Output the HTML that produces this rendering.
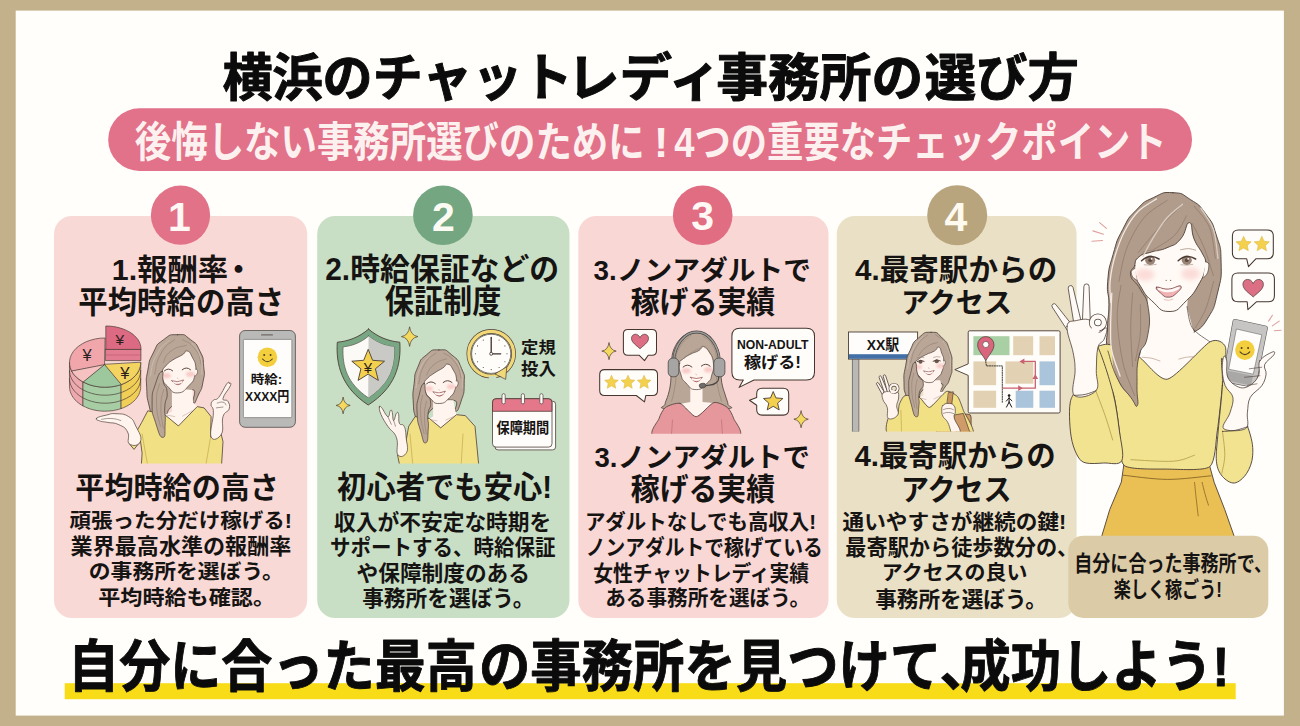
<!DOCTYPE html>
<html lang="ja">
<head>
<meta charset="utf-8">
<title>横浜のチャットレディ事務所の選び方</title>
<style>
html,body{margin:0;padding:0;}
body{width:1300px;height:726px;overflow:hidden;background:#c3b18b;font-family:"Liberation Sans",sans-serif;}
#page{position:relative;width:1300px;height:726px;overflow:hidden;background:#c3b18b;}
#art{position:absolute;left:0;top:0;width:1300px;height:726px;display:block;}
.t{position:absolute;margin:0;padding:0;color:transparent;white-space:nowrap;overflow:hidden;line-height:1.2;font-weight:bold;font-family:"Liberation Sans",sans-serif;}
</style>
</head>
<body>
<div id="page">
<svg id="art" width="1300" height="726" viewBox="0 0 1300 726">
<defs>
<filter id="bl" x="-50%" y="-50%" width="200%" height="200%"><feGaussianBlur stdDeviation="1.1"/></filter>
<filter id="bl2" x="-50%" y="-50%" width="200%" height="200%"><feGaussianBlur stdDeviation="2.4"/></filter>
</defs>
<!-- base.svg -->
<rect x="0" y="0" width="1300" height="726" fill="#c3b18b"/>
<rect x="15.7" y="10.6" width="1268.2" height="705" fill="#fffefb"/>
<!-- banner -->
<rect x="108.2" y="108.3" width="1083.8" height="62.7" rx="31.3" fill="#e2718a"/>
<!-- cards -->
<rect x="54" y="216" width="253.2" height="402" rx="18" fill="#f9d9d5"/>
<rect x="317.2" y="216" width="252.3" height="402" rx="18" fill="#c9dfc5"/>
<rect x="578.3" y="216" width="250.2" height="402" rx="18" fill="#f9d7d5"/>
<rect x="836.8" y="216" width="239.8" height="402" rx="18" fill="#eae0c6"/>
<!-- number circles -->
<circle cx="180.5" cy="215.2" r="29.6" fill="#e17288"/>
<circle cx="442.9" cy="215.2" r="29.8" fill="#75a682"/>
<circle cx="702.7" cy="215.2" r="29.8" fill="#e16d82"/>
<circle cx="957.2" cy="215.2" r="30" fill="#b9a57d"/>
<!-- highlight -->
<rect x="64.7" y="683.2" width="1171" height="16" fill="#f8dc17"/>

<!-- ill1.svg -->
<clipPath id="clip1"><rect x="54" y="216" width="253.2" height="247.6"/></clipPath><g id="ill1" clip-path="url(#clip1)">
<path d="M69.5,362.6L69.6,364.2L69.8,365.8L70.2,367.4L70.7,368.9L71.4,370.4L72.2,371.9L73.1,373.4L74.2,374.8L75.4,376.2L76.7,377.5L78.2,378.7L79.7,379.9L81.4,381.0L83.2,382.0L83.2,406.0L81.4,405.0L79.7,403.9L78.2,402.7L76.7,401.5L75.4,400.2L74.2,398.8L73.1,397.4L72.2,395.9L71.4,394.4L70.7,392.9L70.2,391.4L69.8,389.8L69.6,388.2L69.5,386.6Z" fill="#eda9ad" stroke="#4b3d37" stroke-width="0.7" stroke-linejoin="round" stroke-linecap="round"/>
<path d="M83.2,382.0L85.5,383.1L88.0,384.2L90.6,385.1L93.3,385.8L96.0,386.4L98.8,386.8L101.7,387.1L104.6,387.2L107.5,387.1L110.3,386.9L113.2,386.6L115.9,386.0L118.6,385.4L121.3,384.5L121.3,408.5L118.6,409.4L115.9,410.0L113.2,410.6L110.3,410.9L107.5,411.1L104.6,411.2L101.7,411.1L98.8,410.8L96.0,410.4L93.3,409.8L90.6,409.1L88.0,408.2L85.5,407.1L83.2,406.0Z" fill="#a7cda4" stroke="#4b3d37" stroke-width="0.7" stroke-linejoin="round" stroke-linecap="round"/>
<path d="M121.3,384.5L123.7,383.6L126.0,382.5L128.2,381.3L130.3,380.0L132.2,378.6L133.9,377.1L135.5,375.5L136.8,373.8L138.0,372.0L139.0,370.2L139.7,368.3L140.3,366.4L140.6,364.5L140.7,362.6L140.7,386.6L140.6,388.5L140.3,390.4L139.7,392.3L139.0,394.2L138.0,396.0L136.8,397.8L135.5,399.5L133.9,401.1L132.2,402.6L130.3,404.0L128.2,405.3L126.0,406.5L123.7,407.6L121.3,408.5Z" fill="#f1cf57" stroke="#4b3d37" stroke-width="0.7" stroke-linejoin="round" stroke-linecap="round"/>
<path d="M69.5,370.6L69.8,373.8L70.7,377.0L72.2,380.0L74.3,382.9L76.9,385.6L79.9,388.0L83.4,390.1L87.3,391.9L91.5,393.3L95.9,394.4L100.5,395.0L105.1,395.2L109.7,395.0L114.3,394.4L118.7,393.3L122.9,391.9L126.8,390.1L130.3,388.0L133.3,385.6L135.9,382.9L138.0,380.0L139.5,377.0L140.4,373.8L140.7,370.6" fill="none" stroke="#4b3d37" stroke-width="0.7" stroke-linejoin="round" stroke-linecap="round"/>
<path d="M69.5,378.6L69.8,381.8L70.7,385.0L72.2,388.0L74.3,390.9L76.9,393.6L79.9,396.0L83.4,398.1L87.3,399.9L91.5,401.3L95.9,402.4L100.5,403.0L105.1,403.2L109.7,403.0L114.3,402.4L118.7,401.3L122.9,399.9L126.8,398.1L130.3,396.0L133.3,393.6L135.9,390.9L138.0,388.0L139.5,385.0L140.4,381.8L140.7,378.6" fill="none" stroke="#4b3d37" stroke-width="0.7" stroke-linejoin="round" stroke-linecap="round"/>
<path d="M104.6,364.6L105.1,338.0L100.2,338.2L95.5,338.9L90.9,340.1L86.5,341.6L82.6,343.6L79.0,345.9L75.9,348.5L73.4,351.4L71.5,354.5L70.2,357.7L69.6,361.1L69.6,364.4L70.3,367.8L71.6,371.0Z" fill="#f0a6ab" stroke="#4b3d37" stroke-width="0.7" stroke-linejoin="round" stroke-linecap="round"/>
<path d="M104.6,364.6L71.6,371.0L72.2,371.9L72.7,372.8L73.3,373.7L74.0,374.6L74.7,375.4L75.5,376.3L76.3,377.1L77.2,377.8L78.1,378.6L79.0,379.3L80.0,380.0L81.0,380.7L82.1,381.4L83.2,382.0Z" fill="#f6c2c1" stroke="#4b3d37" stroke-width="0.7" stroke-linejoin="round" stroke-linecap="round"/>
<path d="M104.6,364.6L83.2,382.0L85.5,383.1L88.0,384.2L90.6,385.1L93.3,385.8L96.0,386.4L98.8,386.8L101.7,387.1L104.6,387.2L107.5,387.1L110.3,386.9L113.2,386.6L115.9,386.0L118.6,385.4L121.3,384.5Z" fill="#9dc89e" stroke="#4b3d37" stroke-width="0.7" stroke-linejoin="round" stroke-linecap="round"/>
<path d="M104.6,364.6L121.3,384.5L123.7,383.6L126.0,382.5L128.2,381.3L130.3,380.0L132.2,378.6L133.9,377.1L135.5,375.5L136.8,373.8L138.0,372.0L139.0,370.2L139.7,368.3L140.3,366.4L140.6,364.5L140.7,362.6Z" fill="#f3d460" stroke="#4b3d37" stroke-width="0.7" stroke-linejoin="round" stroke-linecap="round"/>
<path d="M105.8,349.0L140.9,349.0L140.9,360.6L105.8,360.6Z" fill="#e27c90" stroke="#4b3d37" stroke-width="0.7" stroke-linejoin="round" stroke-linecap="round"/>
<path d="M105.8,355 L140.9,355" fill="none" stroke="#b8586c" stroke-width="0.6" stroke-linejoin="round" stroke-linecap="round"/>
<path d="M105.8,349.0L105.8,326.0L109.5,326.1L113.1,326.5L116.7,327.1L120.1,328.0L123.4,329.1L126.5,330.4L129.4,331.9L132.0,333.6L134.3,335.5L136.3,337.5L138.0,339.6L139.3,341.9L140.2,344.2L140.8,346.6L141.0,349.0Z" fill="#db6a82" stroke="#4b3d37" stroke-width="0.7" stroke-linejoin="round" stroke-linecap="round"/>
<path d="M177.7,334.7C168.7,334.8 171.4,333.8 163.3,339.9C155.1,346.0 158.4,342.8 153.2,353.0C148.1,363.1 150.0,358.8 147.8,370.3C145.7,381.9 146.2,375.5 146.7,387.7C147.2,399.9 146.6,395.1 149.4,407.0C152.2,418.9 150.7,413.2 155.2,423.4C159.7,433.5 159.4,439.0 162.9,437.4C166.3,435.8 161.6,430.0 165.6,418.5C169.6,407.1 166.0,412.8 174.8,403.1C183.7,393.5 186.1,389.7 192.2,389.6C198.3,389.5 191.1,400.9 193.1,402.7C195.2,404.5 195.1,402.0 198.3,395.0C201.6,388.1 201.2,391.4 203.0,381.9C204.8,372.4 204.8,376.8 203.7,366.5C202.7,356.2 204.4,360.1 199.9,351.1C195.4,342.1 197.6,345.0 190.3,339.5C182.9,334.0 186.7,334.5 177.7,334.7Z" fill="#b9a697" stroke="#4b3d37" stroke-width="0.8" stroke-linejoin="round" stroke-linecap="round"/>
<path d="M171.9,389.6L171.9,411.8L164.2,415.1L178.7,426.3L198.0,407.0L193.1,402.7L192.2,389.6Z" fill="#fff4ee" stroke="none" stroke-width="0" stroke-linejoin="round" stroke-linecap="round"/>
<path d="M164.0,414.3L147.8,410.8L141.7,422.4L129.5,444.0L134.0,449.4L140.5,441.3L142.1,453.2L141.3,466.0L221.5,466.0L223.0,441.7L221.1,434.0L210.5,436.9L211.1,416.6L204.1,407.9L197.2,406.6L178.7,425.7Z" fill="#f2e084" stroke="#4b3d37" stroke-width="0.8" stroke-linejoin="round" stroke-linecap="round"/>
<path d="M142.1,434.0L147.8,466.0" fill="none" stroke="#b8a04e" stroke-width="0.6" stroke-linejoin="round" stroke-linecap="round"/>
<path d="M211.1,434.0L205.7,466.0" fill="none" stroke="#b8a04e" stroke-width="0.6" stroke-linejoin="round" stroke-linecap="round"/>
<path d="M167.1,415.1L174.8,416.6" fill="none" stroke="#b59a8c" stroke-width="0.5" stroke-linejoin="round" stroke-linecap="round"/>
<path d="M182.5,416.2L192.2,410.8" fill="none" stroke="#b59a8c" stroke-width="0.5" stroke-linejoin="round" stroke-linecap="round"/>
<path d="M162.1,371.9C161.1,375.7 160.9,374.2 162.5,378.4C164.1,382.7 162.9,381.8 167.5,386.2C172.1,390.5 171.1,393.2 177.7,392.9C184.3,392.6 184.3,390.1 189.5,385.0C194.6,379.8 193.0,381.2 194.9,375.7C196.8,370.3 196.5,372.3 195.8,366.9C195.1,361.5 195.1,362.6 192.6,357.8C190.0,353.1 190.5,351.9 187.4,351.1C184.2,350.2 186.5,352.3 182.2,354.9C177.8,357.6 177.8,356.7 172.9,359.9C168.0,363.2 169.2,362.1 166.0,365.7C162.7,369.3 163.1,368.1 162.1,371.9Z" fill="#fff4ee" stroke="#4b3d37" stroke-width="0.7" stroke-linejoin="round" stroke-linecap="round"/>
<path d="M195.3,369.2C196.0,369.6 196.9,368.5 197.4,370.3C197.8,372.1 197.5,372.8 196.6,374.6C195.7,376.4 195.3,375.4 194.7,375.7" fill="#fff4ee" stroke="#4b3d37" stroke-width="0.6" stroke-linejoin="round" stroke-linecap="round"/>
<ellipse cx="166.5" cy="375.7" rx="4.3" ry="2.6" fill="#f6b9b6" opacity="0.7" filter="url(#bl)"/>
<ellipse cx="190.3" cy="374.2" rx="4.3" ry="2.6" fill="#f6b9b6" opacity="0.7" filter="url(#bl)"/>
<path d="M162.1,371.5C159.5,372.1 158.9,373.3 155.5,383.8C152.2,394.4 152.1,390.3 152.1,403.1C152.1,416.0 151.9,411.0 155.5,422.4C159.1,433.8 159.7,437.4 162.9,437.4C166.1,437.4 164.5,432.5 165.2,422.4C165.8,412.2 164.2,416.9 164.8,407.0C165.4,397.0 167.6,400.9 167.1,392.5C166.6,384.2 164.9,388.9 163.3,381.9C161.6,374.9 164.7,370.9 162.1,371.5Z" fill="#b9a697" stroke="#4b3d37" stroke-width="0.7" stroke-linejoin="round" stroke-linecap="round"/>
<path d="M159.4,383.8C158.4,390.3 156.2,389.0 156.5,403.1C156.8,417.3 159.1,418.5 160.4,426.3" fill="none" stroke="#8c7768" stroke-width="0.5" stroke-linejoin="round" stroke-linecap="round"/>
<path d="M163.6,389.6C162.7,395.4 161.1,394.1 160.9,407.0C160.8,419.8 162.5,421.1 163.3,428.2" fill="none" stroke="#8c7768" stroke-width="0.5" stroke-linejoin="round" stroke-linecap="round"/>
<path d="M174.8,339.5C170.3,344.0 168.1,341.4 161.3,353.0C154.6,364.6 156.8,367.1 154.6,374.2" fill="none" stroke="#8c7768" stroke-width="0.5" stroke-linejoin="round" stroke-linecap="round"/>
<path d="M182.5,339.5C186.7,342.7 188.8,340.8 195.1,349.1C201.4,357.5 199.3,359.4 201.4,364.6" fill="none" stroke="#8c7768" stroke-width="0.5" stroke-linejoin="round" stroke-linecap="round"/>
<path d="M186.4,345.3C181.3,347.2 178.7,345.3 171.0,351.1C163.3,356.8 165.8,358.8 163.3,362.6" fill="none" stroke="#8c7768" stroke-width="0.5" stroke-linejoin="round" stroke-linecap="round"/>
<path d="M169.0,340.5C164.9,345.3 162.8,343.0 156.5,354.9C150.2,366.8 152.3,369.1 150.2,376.1" fill="none" stroke="#cdbdb0" stroke-width="0.9" stroke-linejoin="round" stroke-linecap="round"/>
<path d="M192.2,343.4C194.9,347.8 197.1,346.6 200.3,356.8C203.5,367.1 201.3,368.4 201.8,374.2" fill="none" stroke="#cdbdb0" stroke-width="0.9" stroke-linejoin="round" stroke-linecap="round"/>
<path d="M164.3,370.9 Q168.5,367.1 172.7,370.9" fill="none" stroke="#5a463e" stroke-width="1" stroke-linejoin="round" stroke-linecap="round"/>
<path d="M182.2,369.8 Q186.4,366.0 190.6,369.8" fill="none" stroke="#5a463e" stroke-width="1" stroke-linejoin="round" stroke-linecap="round"/>
<path d="M177.3,378.1 l0.8,0.6" fill="none" stroke="#c49a8c" stroke-width="0.6" stroke-linejoin="round" stroke-linecap="round"/>
<path d="M171.7,380.7 Q177.7,383.1 183.7,379.9 Q178.7,389.4 171.7,380.7 Z" fill="#e79a9c" stroke="#7a4a48" stroke-width="0.6" stroke-linejoin="round" stroke-linecap="round"/>
<path d="M172.7,381.3 Q177.7,383.3 182.7,380.7 L181.9,382.7 Q177.7,384.9 173.5,382.9 Z" fill="#fffaf6" stroke="none" stroke-width="0" stroke-linejoin="round" stroke-linecap="round"/>
<path d="M96.7,418.2C98.5,416.6 101.2,416.3 106.4,415.1C111.5,413.9 110.1,413.3 116.0,413.7C121.9,414.1 123.3,413.3 128.6,416.6C133.9,420.0 132.7,419.7 135.9,426.3C139.1,432.8 142.2,436.6 140.5,441.3C138.8,446.0 133.0,446.5 129.5,444.0C126.1,441.5 130.4,437.2 127.6,432.0C124.8,426.9 124.3,427.3 118.9,424.7C113.5,422.1 112.5,423.4 107.4,422.4C102.2,421.4 102.5,422.0 99.6,420.9C96.8,419.7 94.9,419.7 96.7,418.2Z" fill="#fff4ee" stroke="#4b3d37" stroke-width="0.7" stroke-linejoin="round" stroke-linecap="round"/>
<path d="M101.6,419.3C104.8,419.1 104.8,418.2 111.2,418.5C117.6,418.9 117.6,419.8 120.8,420.5" fill="none" stroke="#4b3d37" stroke-width="0.5" stroke-linejoin="round" stroke-linecap="round"/>
<path d="M229.2,383.1C228.3,382.7 228.9,380.9 226.5,384.2C224.1,387.6 221.8,393.6 218.8,397.3C215.7,401.1 215.2,398.4 213.4,400.2C211.6,402.0 211.1,402.1 211.1,405.0C211.1,408.0 213.4,405.3 213.4,412.8C213.4,420.2 209.2,431.9 211.1,436.9C213.0,441.8 218.7,438.7 221.5,434.0C224.3,429.2 221.2,422.5 223.0,416.6C224.8,410.8 228.1,412.5 229.2,408.9C230.3,405.3 229.3,403.7 227.8,401.2C226.4,398.7 222.4,401.9 223.0,398.3C223.6,394.7 228.9,389.3 230.4,385.8C231.8,382.2 230.1,383.4 229.2,383.1Z" fill="#fff4ee" stroke="#4b3d37" stroke-width="0.7" stroke-linejoin="round" stroke-linecap="round"/>
<path d="M217.2,403.1C219.2,402.8 220.1,401.5 223.0,402.2C225.9,402.8 225.0,404.1 225.9,405.0" fill="none" stroke="#4b3d37" stroke-width="0.5" stroke-linejoin="round" stroke-linecap="round"/>
<path d="M216.3,407.9C218.5,407.6 220.8,407.3 223.0,407.0" fill="none" stroke="#4b3d37" stroke-width="0.5" stroke-linejoin="round" stroke-linecap="round"/>
<rect x="239.6" y="330.5" width="55.8" height="96.8" rx="5.5" fill="#b9b9b7" stroke="#5e5a57" stroke-width="0.9"/>
<rect x="243.4" y="339.4" width="48.4" height="78.2" rx="1" fill="#fffdfb" stroke="#6a6663" stroke-width="0.6"/>
<rect x="261" y="334.3" width="12" height="1.3" rx="0.6" fill="#6e6a68"/>
<circle cx="267.4" cy="357.2" r="9.8" fill="#f3cf3e"/><circle cx="264.2" cy="355.0" r="0.98" fill="#4a3a2a"/><circle cx="270.6" cy="355.0" r="0.98" fill="#4a3a2a"/><path d="M262.5,359.0 Q267.4,364.6 272.3,359.0" fill="none" stroke="#4a3a2a" stroke-width="1.08" stroke-linecap="round"/>
</g>

<!-- ill2.svg -->
<clipPath id="clip2"><rect x="317.2" y="216" width="252.3" height="247.6"/></clipPath><g id="ill2" clip-path="url(#clip2)">
<path d="M368.6,329.1 C358.9,337.6 347.4,341.4 337.3,342.2 C335.8,364.6 341.6,387.7 368.2,405.0 C395.5,387.7 401.3,364.6 399.8,342.2 C389.8,341.4 378.2,337.6 368.6,329.1 Z" fill="#7aa783" stroke="#4b3d37" stroke-width="0.9" stroke-linejoin="round" stroke-linecap="round"/>
<path d="M368.6,336.0 C360.8,343.0 351.2,346.1 343.1,346.8 C342.0,366.5 347.4,383.8 368.2,397.7 C389.8,383.8 395.2,366.5 394.0,346.8 C385.9,346.1 376.3,343.0 368.6,336.0 Z" fill="#fbfaf7" stroke="#5a5a55" stroke-width="0.7" stroke-linejoin="round" stroke-linecap="round"/>
<path d="M368.6,336.0 L368.2,397.7 C389.8,383.8 395.2,366.5 394.0,346.8 C385.9,346.1 376.3,343.0 368.6,336.0 Z" fill="#c9c9c6" stroke="none" stroke-width="0" stroke-linejoin="round" stroke-linecap="round"/>
<linearGradient id="shg" x1="0" y1="0" x2="1" y2="0"><stop offset="0" stop-color="#f1f0ed"/><stop offset="1" stop-color="#fdfcfa"/></linearGradient>
<polygon points="368.2,349.3 372.6,360.3 384.5,361.2 375.4,368.8 378.3,380.4 368.2,374.1 358.1,380.4 360.9,368.8 351.8,361.2 363.7,360.3" fill="#f3d04e" stroke="#4b3d37" stroke-width="0.9" stroke-linejoin="round"/>
<path d="M409.6,326.8 Q410.6,335.4 417.9,336.6 Q410.6,337.8 409.6,346.4 Q408.6,337.8 401.4,336.6 Q408.6,335.4 409.6,326.8 Z" fill="#f4d95e" stroke="#4b3d37" stroke-width="0.7" stroke-linejoin="round"/>
<path d="M343.1,397.0 Q344.0,404.4 350.2,405.4 Q344.0,406.4 343.1,413.8 Q342.3,406.4 336.1,405.4 Q342.3,404.4 343.1,397.0 Z" fill="#f4d95e" stroke="#4b3d37" stroke-width="0.7" stroke-linejoin="round"/>
<path d="M438.9,349.9C430.4,349.9 433.5,349.1 426.4,354.9C419.3,360.8 421.8,357.8 417.7,367.4C413.6,377.1 415.5,371.9 414.1,383.8C412.6,395.7 412.7,391.5 413.3,403.1C413.9,414.7 413.3,408.3 415.8,418.5C418.2,428.8 417.3,425.9 420.6,434.0C424.0,442.1 423.4,445.4 425.8,442.8C428.3,440.3 425.8,437.6 427.9,426.3C430.1,414.9 423.7,417.6 432.2,408.9C440.7,400.2 445.7,399.5 453.4,400.2C461.1,401.0 452.7,410.9 455.3,411.2C457.9,411.5 458.1,410.3 461.1,401.2C464.1,392.1 464.1,394.8 464.2,383.8C464.3,372.9 465.6,378.1 461.5,368.4C457.4,358.8 459.4,361.1 451.8,354.9C444.3,348.7 447.4,349.9 438.9,349.9Z" fill="#b9a697" stroke="#4b3d37" stroke-width="0.8" stroke-linejoin="round" stroke-linecap="round"/>
<path d="M433.1,400.2L433.1,416.6L428.7,418.9L441.0,427.8L456.9,415.1L455.3,411.2L453.4,400.2Z" fill="#fff4ee" stroke="none" stroke-width="0" stroke-linejoin="round" stroke-linecap="round"/>
<path d="M429.1,418.5L415.2,416.6L408.7,426.3L404.2,451.3L397.5,454.8L399.8,466.0L478.8,466.0L475.0,426.3L465.3,415.6L456.5,414.7L441.0,427.6Z" fill="#f2e084" stroke="#4b3d37" stroke-width="0.8" stroke-linejoin="round" stroke-linecap="round"/>
<path d="M410.0,434.0L412.9,466.0" fill="none" stroke="#b8a04e" stroke-width="0.6" stroke-linejoin="round" stroke-linecap="round"/>
<path d="M463.0,434.0L461.1,466.0" fill="none" stroke="#b8a04e" stroke-width="0.6" stroke-linejoin="round" stroke-linecap="round"/>
<path d="M431.2,419.7L437.0,420.9" fill="none" stroke="#b59a8c" stroke-width="0.5" stroke-linejoin="round" stroke-linecap="round"/>
<path d="M445.7,420.1L453.4,416.6" fill="none" stroke="#b59a8c" stroke-width="0.5" stroke-linejoin="round" stroke-linecap="round"/>
<path d="M424.1,383.8C423.3,387.5 423.0,386.2 424.9,390.6C426.7,394.9 426.0,394.4 430.3,398.3C434.5,402.2 433.3,403.7 439.1,403.5C444.9,403.3 444.6,402.5 449.5,397.7C454.5,393.0 453.6,393.3 455.7,387.7C457.8,382.1 457.2,384.2 456.5,379.0C455.8,373.8 455.9,374.8 453.4,370.3C450.8,365.9 451.2,364.9 448.0,364.2C444.8,363.5 446.9,365.3 442.8,368.0C438.6,370.7 438.7,370.1 434.1,373.2C429.5,376.4 430.4,375.3 427.4,378.4C424.4,381.6 424.8,380.2 424.1,383.8Z" fill="#fff4ee" stroke="#4b3d37" stroke-width="0.7" stroke-linejoin="round" stroke-linecap="round"/>
<path d="M456.1,380.9C456.7,381.3 457.6,380.2 458.0,381.9C458.4,383.6 458.1,384.4 457.2,386.2C456.3,387.9 456.0,386.9 455.3,387.3" fill="#fff4ee" stroke="#4b3d37" stroke-width="0.6" stroke-linejoin="round" stroke-linecap="round"/>
<ellipse cx="428.7" cy="388.7" rx="4.2" ry="2.6" fill="#f6b9b6" opacity="0.65" filter="url(#bl)"/>
<ellipse cx="451.1" cy="386.7" rx="4.2" ry="2.6" fill="#f6b9b6" opacity="0.65" filter="url(#bl)"/>
<path d="M424.1,383.5C421.8,384.1 421.4,385.6 419.1,395.4C416.8,405.2 416.6,400.9 417.1,412.8C417.7,424.6 417.7,421.0 420.6,431.1C423.5,441.1 423.2,443.8 425.8,442.8C428.4,441.9 427.6,437.6 428.3,428.2C429.0,418.8 427.2,423.4 427.9,414.7C428.7,406.0 431.3,409.2 430.6,402.2C430.0,395.1 428.2,399.7 426.0,393.5C423.8,387.2 426.4,382.8 424.1,383.5Z" fill="#b9a697" stroke="#4b3d37" stroke-width="0.7" stroke-linejoin="round" stroke-linecap="round"/>
<path d="M422.5,395.4C421.9,401.2 420.1,399.9 420.6,412.8C421.1,425.6 422.9,426.9 424.1,434.0" fill="none" stroke="#8c7768" stroke-width="0.5" stroke-linejoin="round" stroke-linecap="round"/>
<path d="M426.4,401.2C425.8,406.3 424.5,405.7 424.5,416.6C424.5,427.5 425.8,428.2 426.4,434.0" fill="none" stroke="#8c7768" stroke-width="0.5" stroke-linejoin="round" stroke-linecap="round"/>
<path d="M436.0,353.0C432.2,356.8 430.3,354.3 424.5,364.6C418.7,374.8 420.6,377.4 418.7,383.8" fill="none" stroke="#8c7768" stroke-width="0.5" stroke-linejoin="round" stroke-linecap="round"/>
<path d="M443.7,353.0C447.6,356.2 449.5,354.3 455.3,362.6C461.1,371.0 459.2,372.9 461.1,378.1" fill="none" stroke="#8c7768" stroke-width="0.5" stroke-linejoin="round" stroke-linecap="round"/>
<path d="M446.6,358.8C442.5,360.7 440.9,359.1 434.1,364.6C427.4,370.0 429.0,371.6 426.4,375.2" fill="none" stroke="#8c7768" stroke-width="0.5" stroke-linejoin="round" stroke-linecap="round"/>
<path d="M430.3,354.9C426.9,359.4 425.0,357.5 420.2,368.4C415.5,379.3 417.4,381.3 416.0,387.7" fill="none" stroke="#cdbdb0" stroke-width="0.9" stroke-linejoin="round" stroke-linecap="round"/>
<path d="M453.4,357.8C455.8,362.0 457.8,360.4 460.7,370.3C463.7,380.3 461.7,381.9 462.3,387.7" fill="none" stroke="#cdbdb0" stroke-width="0.9" stroke-linejoin="round" stroke-linecap="round"/>
<path d="M426.6,383.7 Q431.0,379.9 435.4,383.7" fill="none" stroke="#5a463e" stroke-width="1" stroke-linejoin="round" stroke-linecap="round"/>
<path d="M443.2,382.5 Q447.6,378.7 452.0,382.5" fill="none" stroke="#5a463e" stroke-width="1" stroke-linejoin="round" stroke-linecap="round"/>
<path d="M438.7,389.6 l0.8,0.6" fill="none" stroke="#c49a8c" stroke-width="0.6" stroke-linejoin="round" stroke-linecap="round"/>
<path d="M433.1,391.9 Q439.3,394.3 445.5,391.1 Q440.3,401.1 433.1,391.9 Z" fill="#e79a9c" stroke="#7a4a48" stroke-width="0.6" stroke-linejoin="round" stroke-linecap="round"/>
<path d="M434.1,392.5 Q439.3,394.5 444.5,391.9 L443.5,394.1 Q439.3,396.3 435.1,394.3 Z" fill="#fffaf6" stroke="none" stroke-width="0" stroke-linejoin="round" stroke-linecap="round"/>
<path d="M379.4,407.0C379.5,405.4 379.7,405.5 381.7,407.7C383.6,410.0 385.9,415.9 387.8,416.6C389.8,417.3 389.2,412.0 390.2,410.8C391.1,409.7 391.3,409.3 392.1,411.6C392.9,413.8 392.6,420.1 393.6,420.5C394.7,420.8 395.3,414.6 396.5,413.1C397.7,411.7 398.0,411.9 398.6,414.3C399.3,416.7 398.1,420.6 399.4,423.4C400.7,426.1 402.6,422.9 404.2,426.3C405.8,429.6 405.6,431.7 406.2,437.8C406.7,443.9 408.7,448.3 406.7,452.3C404.8,456.2 400.2,458.2 397.9,454.8C395.5,451.4 398.9,444.5 396.5,437.8C394.2,431.2 391.4,431.6 387.8,426.3C384.2,420.9 383.1,419.2 381.1,414.7C379.1,410.2 379.2,408.6 379.4,407.0Z" fill="#fff4ee" stroke="#4b3d37" stroke-width="0.7" stroke-linejoin="round" stroke-linecap="round"/>
<path d="M387.8,416.6C389.0,419.2 390.2,421.8 391.3,424.3" fill="none" stroke="#4b3d37" stroke-width="0.5" stroke-linejoin="round" stroke-linecap="round"/>
<path d="M393.6,420.5C394.3,422.4 394.9,424.3 395.5,426.3" fill="none" stroke="#4b3d37" stroke-width="0.5" stroke-linejoin="round" stroke-linecap="round"/>
<circle cx="491.2" cy="353.8" r="22.4" fill="none" stroke="#4b3d37" stroke-width="4.6"/>
<circle cx="491.2" cy="353.8" r="22.4" fill="none" stroke="#f1d878" stroke-width="3.3"/>
<circle cx="491.2" cy="353.8" r="19.6" fill="#fffdf9" stroke="#4b3d37" stroke-width="0.7"/>
<circle cx="507.0" cy="353.8" r="0.55" fill="#4a403a"/>
<circle cx="504.9" cy="361.7" r="0.55" fill="#4a403a"/>
<circle cx="499.1" cy="367.5" r="0.55" fill="#4a403a"/>
<circle cx="491.2" cy="369.6" r="0.55" fill="#4a403a"/>
<circle cx="483.3" cy="367.5" r="0.55" fill="#4a403a"/>
<circle cx="477.5" cy="361.7" r="0.55" fill="#4a403a"/>
<circle cx="475.4" cy="353.8" r="0.55" fill="#4a403a"/>
<circle cx="477.5" cy="345.9" r="0.55" fill="#4a403a"/>
<circle cx="483.3" cy="340.1" r="0.55" fill="#4a403a"/>
<circle cx="491.2" cy="338.0" r="0.55" fill="#4a403a"/>
<circle cx="499.1" cy="340.1" r="0.55" fill="#4a403a"/>
<circle cx="504.9" cy="345.9" r="0.55" fill="#4a403a"/>
<path d="M491.2,337.3 L491.2,353.8 L500.7,353.8" fill="none" stroke="#3a302c" stroke-width="1.3" stroke-linejoin="round" stroke-linecap="round"/>
<circle cx="491.2" cy="353.8" r="1.5" fill="#fffdf9" stroke="#3a302c" stroke-width="0.8"/>
<path d="M488.9,375.8L496.4,376.5L496.0,380.6L488.9,379.7Z" fill="#c9dfc5" stroke="none" stroke-width="0" stroke-linejoin="round" stroke-linecap="round"/>
<path d="M495.3,373.7L506.8,366.8L505.7,379.0Z" fill="#f1d878" stroke="#4b3d37" stroke-width="0.7" stroke-linejoin="round" stroke-linecap="round"/>
<rect x="495.0" y="401.2" width="60.6" height="48.7" rx="3" fill="#fffdfb" stroke="#4b3d37" stroke-width="0.8"/>
<rect x="492.5" y="398.7" width="59.5" height="48.4" rx="3.5" fill="#fffdfb" stroke="#4b3d37" stroke-width="0.8"/>
<path d="M492.5,411.3 L492.5,402.2 Q492.5,398.7 496.0,398.7 L548.4,398.7 Q551.9,398.7 551.9,402.2 L551.9,411.3 Z" fill="#e4778a" stroke="#4b3d37" stroke-width="0.8"/>
<rect x="502.0" y="393.7" width="3.2" height="10.2" rx="1.6" fill="#fffdfb" stroke="#4b3d37" stroke-width="0.7"/>
<rect x="521.3" y="393.7" width="3.2" height="10.2" rx="1.6" fill="#fffdfb" stroke="#4b3d37" stroke-width="0.7"/>
<rect x="539.8" y="393.7" width="3.2" height="10.2" rx="1.6" fill="#fffdfb" stroke="#4b3d37" stroke-width="0.7"/>
</g>

<!-- ill3.svg -->
<clipPath id="clip3"><rect x="578.3" y="216" width="250.2" height="217.7"/></clipPath><g id="ill3" clip-path="url(#clip3)">
<path d="M627.9,329.4L652.0,329.4Q656.5,329.4 656.5,333.9L656.5,350.7Q656.5,355.2 652.0,355.2L648.2,355.2 L644.5,360.6 L639.1,355.2L627.9,355.2Q623.4,355.2 623.4,350.7L623.4,333.9Q623.4,329.4 627.9,329.4 Z" fill="#fffdfa" stroke="#45372f" stroke-width="1.05" stroke-linejoin="round"/>
<path d="M640.0,337.8 C638.3,332.7 631.5,333.2 631.5,338.4 C631.5,342.7 636.6,345.4 640.0,348.8 C643.4,345.4 648.5,342.7 648.5,338.4 C648.5,333.2 641.7,332.7 640.0,337.8 Z" fill="#dd6f85" stroke="#4b3d37" stroke-width="0.7" stroke-linejoin="round"/>
<path d="M604.7,369.6L652.5,369.6Q657.5,369.6 657.5,374.6L657.5,390.5Q657.5,395.5 652.5,395.5L645.8,395.5 L644.5,401.9 L636.3,395.5L604.7,395.5Q599.7,395.5 599.7,390.5L599.7,374.6Q599.7,369.6 604.7,369.6 Z" fill="#fffdfa" stroke="#45372f" stroke-width="1.05" stroke-linejoin="round"/>
<polygon points="611.5,375.2 613.5,379.7 618.3,380.2 614.7,383.5 615.7,388.3 611.5,385.8 607.2,388.3 608.2,383.5 604.6,380.2 609.5,379.7" fill="#f3d04e" stroke="#d9b23a" stroke-width="0.5" stroke-linejoin="round"/>
<polygon points="628.0,375.2 630.0,379.7 634.8,380.2 631.2,383.5 632.2,388.3 628.0,385.8 623.8,388.3 624.8,383.5 621.1,380.2 626.0,379.7" fill="#f3d04e" stroke="#d9b23a" stroke-width="0.5" stroke-linejoin="round"/>
<polygon points="644.1,375.2 646.1,379.7 650.9,380.2 647.3,383.5 648.3,388.3 644.1,385.8 639.9,388.3 640.9,383.5 637.3,380.2 642.1,379.7" fill="#f3d04e" stroke="#d9b23a" stroke-width="0.5" stroke-linejoin="round"/>
<path d="M739.9,328.3L806.5,328.3Q814.5,328.3 814.5,336.3L814.5,372.0Q814.5,380.0 806.5,380.0L754.0,380.0 L739.1,387.4 L743.3,380.0L739.9,380.0Q731.9,380.0 731.9,372.0L731.9,336.3Q731.9,328.3 739.9,328.3 Z" fill="#fffdfa" stroke="#45372f" stroke-width="1.05" stroke-linejoin="round"/>
<path d="M762.2,388.2L783.2,388.2Q788.7,388.2 788.7,393.7L788.7,409.6Q788.7,415.1 783.2,415.1L762.2,415.1Q756.7,415.1 756.7,409.6L756.7,405.2 L749.5,400.2 L756.7,397.5L756.7,393.7Q756.7,388.2 762.2,388.2 Z" fill="#fffdfa" stroke="#45372f" stroke-width="1.05" stroke-linejoin="round"/>
<polygon points="773.2,391.5 775.9,397.9 782.9,398.5 777.6,403.1 779.2,409.9 773.2,406.3 767.2,409.9 768.8,403.1 763.5,398.5 770.5,397.9" fill="#f3d04e" stroke="#4b3d37" stroke-width="0.9" stroke-linejoin="round"/>
<path d="M609.0,342.5 Q609.9,350.0 616.2,351.1 Q609.9,352.1 609.0,359.7 Q608.1,352.1 601.8,351.1 Q608.1,350.0 609.0,342.5 Z" fill="#f4d95e" stroke="#4b3d37" stroke-width="0.7" stroke-linejoin="round"/>
<path d="M801.1,410.6 Q802.0,418.2 808.3,419.2 Q802.0,420.3 801.1,427.8 Q800.2,420.3 793.9,419.2 Q800.2,418.2 801.1,410.6 Z" fill="#f4d95e" stroke="#4b3d37" stroke-width="0.7" stroke-linejoin="round"/>
<path d="M696.2,331.8C691.3,331.8 686.8,333.4 682.7,336.6C678.7,339.7 676.1,344.0 674.0,348.9C671.9,353.8 672.0,357.1 671.3,363.2C670.7,369.3 671.3,376.4 670.7,382.2C670.1,388.0 669.2,390.8 668.2,394.8C667.1,398.9 665.2,401.8 665.0,404.3C664.8,406.9 655.7,407.9 666.9,408.8C678.1,409.6 715.1,409.6 726.3,408.8C737.5,407.9 728.2,406.9 728.0,404.3C727.8,401.8 726.3,398.9 725.2,394.8C724.0,390.8 722.6,388.0 721.7,382.2C720.8,376.4 720.9,369.3 720.1,363.2C719.3,357.1 719.5,353.8 717.6,348.9C715.7,344.0 713.6,339.7 709.7,336.6C705.7,333.4 701.1,331.8 696.2,331.8Z" fill="#b9a697" stroke="#4b3d37" stroke-width="0.8" stroke-linejoin="round" stroke-linecap="round"/>
<path d="M690.3,385.3L690.3,401.9L679.9,404.0L696.2,417.0L714.1,403.1L702.5,401.9L702.5,385.3Z" fill="#fff4ee" stroke="none" stroke-width="0" stroke-linejoin="round" stroke-linecap="round"/>
<path d="M680.2,403.4C676.6,402.3 667.8,405.7 665.3,407.5C662.9,409.3 660.2,415.1 659.0,418.6C657.8,422.0 646.1,434.8 655.2,436.9C664.3,439.1 728.0,439.1 737.2,436.9C746.4,434.8 734.9,422.0 733.7,418.6C732.6,415.1 729.7,409.3 727.4,407.5C725.1,405.6 717.4,401.5 713.8,402.6C710.1,403.6 700.1,416.6 696.2,416.7C692.3,416.8 683.8,404.4 680.2,403.4Z" fill="#e5979c" stroke="#4b3d37" stroke-width="0.8" stroke-linejoin="round" stroke-linecap="round"/>
<path d="M672.5,420.1L671.3,436.9" fill="none" stroke="#b9686e" stroke-width="0.6" stroke-linejoin="round" stroke-linecap="round"/>
<path d="M721.5,420.1L722.6,436.9" fill="none" stroke="#b9686e" stroke-width="0.6" stroke-linejoin="round" stroke-linecap="round"/>
<path d="M676.4,369.5C676.0,374.8 676.7,374.8 675.1,385.3C673.6,395.9 672.8,395.9 671.7,401.2" fill="none" stroke="#8c7768" stroke-width="0.5" stroke-linejoin="round" stroke-linecap="round"/>
<path d="M716.0,369.5C716.5,374.8 715.7,374.8 717.6,385.3C719.4,395.9 720.2,395.9 721.5,401.2" fill="none" stroke="#8c7768" stroke-width="0.5" stroke-linejoin="round" stroke-linecap="round"/>
<path d="M690.7,335.5C687.0,339.4 684.6,338.6 679.6,347.3C674.6,356.0 676.9,356.8 675.6,361.6" fill="none" stroke="#8c7768" stroke-width="0.5" stroke-linejoin="round" stroke-linecap="round"/>
<path d="M703.3,336.2C706.5,339.4 708.3,337.8 712.8,345.7C717.3,353.7 715.5,355.2 716.8,360.0" fill="none" stroke="#8c7768" stroke-width="0.5" stroke-linejoin="round" stroke-linecap="round"/>
<path d="M679.6,363.5C679.0,368.0 678.9,368.4 680.8,374.2C682.7,380.1 681.3,378.3 685.9,382.9C690.5,387.6 689.8,389.6 696.2,389.6C702.6,389.6 702.5,387.6 707.3,382.9C712.0,378.3 710.2,380.4 712.0,374.2C713.8,368.1 714.0,368.8 713.3,362.4C712.6,356.0 712.6,357.6 709.7,352.9C706.7,348.1 706.6,347.2 703.3,346.5C700.1,345.8 702.9,348.1 698.9,350.5C694.9,352.9 694.7,351.8 689.9,354.5C685.0,357.1 685.8,356.5 682.7,359.2C679.7,361.9 680.1,359.0 679.6,363.5Z" fill="#fff4ee" stroke="#4b3d37" stroke-width="0.7" stroke-linejoin="round" stroke-linecap="round"/>
<ellipse cx="686.2" cy="370.8" rx="4.4" ry="2.8" fill="#f6b9b6" opacity="0.7" filter="url(#bl)"/>
<ellipse cx="708.4" cy="369.8" rx="4.4" ry="2.8" fill="#f6b9b6" opacity="0.7" filter="url(#bl)"/>
<path d="M702.5,347.3C699.1,348.9 698.3,348.4 692.2,352.1C686.2,355.8 687.0,356.3 684.3,358.4" fill="none" stroke="#8c7768" stroke-width="0.5" stroke-linejoin="round" stroke-linecap="round"/>
<path d="M704.1,347.3C706.0,348.9 706.9,348.1 709.7,352.1C712.5,356.0 711.6,356.8 712.5,359.2" fill="none" stroke="#8c7768" stroke-width="0.5" stroke-linejoin="round" stroke-linecap="round"/>
<path d="M683.1,367.0 Q687.5,363.1 691.9,367.0" fill="none" stroke="#5a463e" stroke-width="1" stroke-linejoin="round" stroke-linecap="round"/>
<path d="M701.3,366.1 Q705.7,362.2 710.1,366.1" fill="none" stroke="#5a463e" stroke-width="1" stroke-linejoin="round" stroke-linecap="round"/>
<path d="M695.8,374.2 l0.8,0.6" fill="none" stroke="#c49a8c" stroke-width="0.6" stroke-linejoin="round" stroke-linecap="round"/>
<path d="M690.4,377.3 Q696.4,379.7 702.4,377.3 Q696.4,386.7 690.4,377.3 Z" fill="#e79a9c" stroke="#7a4a48" stroke-width="0.6" stroke-linejoin="round" stroke-linecap="round"/>
<path d="M691.4,377.9 Q696.4,379.9 701.4,377.9 L700.4,379.9 Q696.4,381.7 692.4,379.9 Z" fill="#fffaf6" stroke="none" stroke-width="0" stroke-linejoin="round" stroke-linecap="round"/>
<path d="M673.6,361.6 A23.0,31.7 0 0 1 719.5,361.6" fill="none" stroke="#4a4846" stroke-width="2.8" stroke-linejoin="round" stroke-linecap="round"/>
<path d="M673.6,361.6 A23.0,31.7 0 0 1 719.5,361.6" fill="none" stroke="#9a9997" stroke-width="1.5" stroke-linejoin="round" stroke-linecap="round"/>
<rect x="668.2" y="358.1" width="10.6" height="18.7" rx="4.6" fill="#a6a5a3" stroke="#4a4846" stroke-width="0.8"/>
<rect x="713.8" y="358.1" width="11.1" height="18.7" rx="4.6" fill="#a6a5a3" stroke="#4a4846" stroke-width="0.8"/>
<path d="M718.8,376.8C717.9,378.8 720.1,380.0 716.0,382.9C711.9,385.9 709.7,384.7 706.5,385.6" fill="none" stroke="#4a4846" stroke-width="1.3" stroke-linejoin="round" stroke-linecap="round"/>
<rect x="699.2" y="383.4" width="6.6" height="4.4" rx="2.2" fill="#6d6c6a" stroke="#3a3836" stroke-width="0.6" transform="rotate(-8 702.5 385.6)"/>
</g>

<!-- ill4.svg -->
<clipPath id="clip4"><rect x="836.8" y="216" width="239.8" height="215.6"/></clipPath><g id="ill4" clip-path="url(#clip4)">
<rect x="852.3" y="358.7" width="6.6" height="73.2" rx="0" fill="#b9b8b5" stroke="#5a5856" stroke-width="0.7"/>
<rect x="848.5" y="332.0" width="69.1" height="27.1" rx="0" fill="#fffdfb" stroke="#4b3d37" stroke-width="0.9"/>
<rect x="848.9" y="354.2" width="68.1" height="4.6" rx="0" fill="#4270a6" stroke="none" stroke-width="0"/>
<path d="M969.7,330.8L1058.6,330.8Q1060.1,330.8 1060.1,332.3L1060.1,411.5Q1060.1,413.0 1058.6,413.0L969.7,413.0Q968.2,413.0 968.2,411.5L968.2,375.4 L954.8,369.6 L968.2,363.9L968.2,332.3Q968.2,330.8 969.7,330.8 Z" fill="#fffdfa" stroke="#45372f" stroke-width="0.9" stroke-linejoin="round"/>
<rect x="973.4" y="336.2" width="36.1" height="19.0" rx="0" fill="#a9cfa4" stroke="none" stroke-width="0"/>
<rect x="1013.2" y="336.2" width="20.0" height="19.0" rx="0" fill="#e2d2b3" stroke="none" stroke-width="0"/>
<rect x="1039.5" y="336.2" width="15.5" height="19.0" rx="0" fill="#e2d2b3" stroke="none" stroke-width="0"/>
<rect x="973.4" y="361.4" width="22.7" height="23.8" rx="0" fill="#e2d2b3" stroke="none" stroke-width="0"/>
<rect x="1005.4" y="361.4" width="27.9" height="22.3" rx="0" fill="#e2d2b3" stroke="none" stroke-width="0"/>
<rect x="1039.5" y="361.4" width="15.5" height="23.8" rx="0" fill="#aac4dc" stroke="none" stroke-width="0"/>
<rect x="973.4" y="390.7" width="22.7" height="17.1" rx="0" fill="#e2d2b3" stroke="none" stroke-width="0"/>
<rect x="1015.7" y="390.7" width="17.6" height="17.1" rx="0" fill="#aac4dc" stroke="none" stroke-width="0"/>
<rect x="1039.5" y="390.7" width="15.5" height="17.1" rx="0" fill="#aac4dc" stroke="none" stroke-width="0"/>
<path d="M985.8,361.8L986.4,365.9L1002.3,365.9L1002.3,403.1" fill="none" stroke="#2a2624" stroke-width="0.9" stroke-linejoin="round" stroke-linecap="round" stroke-dasharray="1.2 1.2"/>
<path d="M1002.9,388.2L1035.3,388.2L1035.3,361.4L1021.9,361.4" fill="none" stroke="#c8606f" stroke-width="1.3" stroke-linejoin="round" stroke-linecap="round"/>
<path d="M1019.4,361.4L1024.4,358.5L1024.4,364.3Z" fill="#c8606f" stroke="none" stroke-width="0" stroke-linejoin="round" stroke-linecap="round"/>
<path d="M1035.3,374.2L1032.4,379.1L1038.2,379.1Z" fill="#c8606f" stroke="none" stroke-width="0" stroke-linejoin="round" stroke-linecap="round"/>
<path d="M1022.9,388.2L1018.2,385.3L1018.2,391.1Z" fill="#c8606f" stroke="none" stroke-width="0" stroke-linejoin="round" stroke-linecap="round"/>
<path d="M985.8,360.8 C982.8,354.3 977.6,350.3 977.6,344.8 C977.6,333.8 994.0,333.8 994.0,344.8 Z M985.8,360.8" fill="none" stroke="none" stroke-width="0" stroke-linejoin="round" stroke-linecap="round"/>
<path d="M985.8,360.8 C983.3,355.3 977.6,350.8 977.6,344.8 A8.2,8.2 0 1 1 994.0,344.8 C994.0,350.8 988.3,355.3 985.8,360.8 Z" fill="#d9667c" stroke="#4b3d37" stroke-width="0.7" stroke-linejoin="round" stroke-linecap="round"/>
<circle cx="985.8" cy="344.5" r="3.1" fill="#fffdfb" stroke="#4b3d37" stroke-width="0.6"/>
<circle cx="1009.1" cy="395.6" r="1.3" fill="#1a1818"/>
<path d="M1009.1,397.4 L1009.1,402.1 M1009.1,402.1 L1006.5,407.1 M1009.1,402.1 L1011.7,407.1 M1006.3,401.1 L1009.1,398.0 L1011.9,400.8" fill="none" stroke="#1a1818" stroke-width="1" stroke-linejoin="round" stroke-linecap="round"/>
<path d="M931.0,332.3C923.2,332.3 925.6,331.9 918.6,337.9C911.7,343.8 914.5,341.0 910.2,350.2C905.8,359.5 907.7,354.8 905.7,365.6C903.6,376.4 903.8,372.3 904.0,382.6C904.2,392.9 903.7,387.7 906.3,396.5C908.9,405.2 908.4,402.0 911.7,408.8C915.0,415.6 913.9,418.4 916.3,416.8C918.7,415.3 916.4,413.5 918.9,404.2C921.5,394.8 916.7,395.7 924.0,388.8C931.4,381.8 935.6,382.2 941.0,383.4C946.4,384.5 938.8,391.0 940.2,392.1C941.6,393.3 941.9,391.6 945.1,386.9C948.4,382.2 947.7,385.1 949.9,378.0C952.2,370.9 952.0,374.9 951.9,365.6C951.8,356.4 952.9,359.5 949.6,350.2C946.3,341.0 948.3,343.8 942.1,337.9C935.8,331.9 938.8,332.3 931.0,332.3Z" fill="#b9a697" stroke="#4b3d37" stroke-width="0.8" stroke-linejoin="round" stroke-linecap="round"/>
<path d="M923.3,380.3L923.3,395.2L918.9,397.4L929.4,407.6L946.7,391.8L940.2,392.1L941.0,383.4L940.2,380.3Z" fill="#fff4ee" stroke="none" stroke-width="0" stroke-linejoin="round" stroke-linecap="round"/>
<rect x="936.4" y="414.2" width="34.7" height="22.4" rx="3" fill="#cf9b68" stroke="#4b3d37" stroke-width="0.8"/>
<rect x="938.7" y="418.0" width="9.3" height="18.5" rx="2" fill="#dcae7e" stroke="#8a6a4a" stroke-width="0.5"/>
<path d="M919.2,397.1C916.8,395.9 906.7,395.0 904.8,395.7C902.8,396.4 900.1,402.3 899.4,404.2C898.6,406.1 898.5,413.2 897.4,414.7C896.2,416.1 888.8,416.2 888.1,418.4C887.5,420.5 882.6,434.2 890.9,435.9C899.2,437.7 964.1,438.5 971.4,435.9C978.6,433.4 964.7,414.3 963.3,410.3C962.0,406.4 959.2,398.3 957.5,396.5C955.8,394.6 949.2,390.4 946.4,391.5C943.6,392.6 932.3,406.9 929.6,407.4C926.9,408.0 921.7,398.3 919.2,397.1Z" fill="#f2e084" stroke="#4b3d37" stroke-width="0.8" stroke-linejoin="round" stroke-linecap="round"/>
<path d="M900.9,410.3L901.7,435.9" fill="none" stroke="#b8a04e" stroke-width="0.6" stroke-linejoin="round" stroke-linecap="round"/>
<path d="M948.7,392.6L953.3,391.8L951.0,410.3L946.4,410.3Z" fill="#c9925f" stroke="#4b3d37" stroke-width="0.7" stroke-linejoin="round" stroke-linecap="round"/>
<path d="M954.1,415.0L963.3,413.4L971.1,435.9L957.2,435.9Z" fill="#cf9b68" stroke="#4b3d37" stroke-width="0.7" stroke-linejoin="round" stroke-linecap="round"/>
<path d="M943.0,405.4C944.4,403.8 945.4,403.4 947.9,403.4C950.4,403.4 952.1,403.4 953.8,405.4C955.5,407.4 955.2,408.9 955.3,411.9C955.5,414.9 953.2,413.7 954.4,418.4C955.6,423.0 960.5,427.8 960.3,431.9C960.0,436.0 956.2,438.1 953.3,435.9C950.4,433.8 950.3,427.2 947.9,422.7C945.5,418.1 944.4,419.4 943.0,416.5C941.6,413.6 941.8,412.9 941.8,410.3C941.8,407.7 941.6,407.0 943.0,405.4Z" fill="#fff4ee" stroke="#4b3d37" stroke-width="0.7" stroke-linejoin="round" stroke-linecap="round"/>
<path d="M943.6,409.6C945.3,409.2 945.5,408.4 948.7,408.5C951.9,408.5 951.8,409.3 953.3,409.7" fill="none" stroke="#4b3d37" stroke-width="0.5" stroke-linejoin="round" stroke-linecap="round"/>
<path d="M943.3,413.4C945.1,413.1 945.2,412.4 948.7,412.5C952.2,412.6 952.1,413.3 953.8,413.7" fill="none" stroke="#4b3d37" stroke-width="0.5" stroke-linejoin="round" stroke-linecap="round"/>
<path d="M921.4,398.3L926.0,399.5" fill="none" stroke="#b59a8c" stroke-width="0.5" stroke-linejoin="round" stroke-linecap="round"/>
<path d="M934.0,398.9L941.8,395.2" fill="none" stroke="#b59a8c" stroke-width="0.5" stroke-linejoin="round" stroke-linecap="round"/>
<path d="M915.2,362.9C914.5,366.2 914.7,366.0 916.2,370.3C917.6,374.6 916.4,373.5 920.2,377.2C924.0,380.9 923.6,382.4 928.8,382.6C934.0,382.7 933.4,381.4 937.4,377.7C941.5,374.0 940.5,375.2 942.4,370.3C944.3,365.3 943.9,366.1 943.8,361.0C943.6,355.9 943.3,357.5 941.8,353.3C940.2,349.1 940.9,347.8 938.7,347.1C936.5,346.4 938.3,348.7 934.4,351.0C930.4,353.3 930.3,352.4 925.6,354.8C920.9,357.3 921.7,356.7 918.6,359.2C915.5,361.6 916.0,359.5 915.2,362.9Z" fill="#fff4ee" stroke="#4b3d37" stroke-width="0.7" stroke-linejoin="round" stroke-linecap="round"/>
<path d="M943.5,360.4C944.0,360.7 944.8,359.8 945.1,361.3C945.5,362.9 945.3,363.5 944.5,365.0C943.8,366.6 943.4,365.6 942.8,365.9" fill="#fff4ee" stroke="#4b3d37" stroke-width="0.6" stroke-linejoin="round" stroke-linecap="round"/>
<ellipse cx="918.3" cy="366.9" rx="3.8" ry="2.4" fill="#f6b9b6" opacity="0.65" filter="url(#bl)"/>
<ellipse cx="940.2" cy="365.9" rx="3.8" ry="2.4" fill="#f6b9b6" opacity="0.65" filter="url(#bl)"/>
<path d="M915.2,362.5C912.8,362.0 912.8,364.6 910.6,373.3C908.5,382.1 908.6,378.5 908.8,388.8C909.0,399.0 908.7,394.8 911.2,404.2C913.7,413.5 913.7,416.3 916.3,416.8C918.9,417.3 918.0,413.5 918.9,405.7C919.9,397.9 917.8,400.8 919.2,393.4C920.7,385.9 923.7,389.5 923.3,383.4C922.8,377.2 920.5,381.8 917.9,374.9C915.2,367.9 917.7,363.1 915.2,362.5Z" fill="#b9a697" stroke="#4b3d37" stroke-width="0.7" stroke-linejoin="round" stroke-linecap="round"/>
<path d="M913.7,373.3C913.1,378.5 911.5,377.4 911.8,388.8C912.2,400.1 913.7,401.1 914.6,407.3" fill="none" stroke="#8c7768" stroke-width="0.5" stroke-linejoin="round" stroke-linecap="round"/>
<path d="M917.1,379.5C916.6,384.1 915.5,383.6 915.5,393.4C915.5,403.1 916.6,403.7 917.1,408.8" fill="none" stroke="#8c7768" stroke-width="0.5" stroke-linejoin="round" stroke-linecap="round"/>
<path d="M927.9,334.8C924.3,338.4 922.8,336.3 917.1,345.6C911.3,354.8 912.8,356.9 910.6,362.5" fill="none" stroke="#8c7768" stroke-width="0.5" stroke-linejoin="round" stroke-linecap="round"/>
<path d="M935.6,334.8C938.9,337.9 940.9,336.3 945.6,344.0C950.3,351.8 948.4,353.3 949.8,357.9" fill="none" stroke="#8c7768" stroke-width="0.5" stroke-linejoin="round" stroke-linecap="round"/>
<path d="M937.4,342.5C933.7,344.0 932.6,342.8 926.3,347.1C920.1,351.5 921.2,352.8 918.6,355.6" fill="none" stroke="#8c7768" stroke-width="0.5" stroke-linejoin="round" stroke-linecap="round"/>
<path d="M923.3,336.3C919.7,341.0 917.7,339.4 912.5,350.2C907.2,361.0 909.2,362.5 907.5,368.7" fill="none" stroke="#cdbdb0" stroke-width="0.9" stroke-linejoin="round" stroke-linecap="round"/>
<path d="M943.0,341.0C945.0,345.1 946.7,344.0 949.2,353.3C951.6,362.5 950.0,363.6 950.4,368.7" fill="none" stroke="#cdbdb0" stroke-width="0.9" stroke-linejoin="round" stroke-linecap="round"/>
<ellipse cx="920.5" cy="361.8" rx="2.1" ry="1.9" fill="#6e584c"/>
<path d="M916.9,361.7 Q920.5,358.9 924.1,361.3" fill="none" stroke="#4a3a34" stroke-width="0.9" stroke-linejoin="round" stroke-linecap="round"/>
<path d="M917.3,357.9 Q920.5,356.5 923.9,357.5" fill="none" stroke="#8a7468" stroke-width="0.5" stroke-linejoin="round" stroke-linecap="round"/>
<ellipse cx="936.7" cy="361.3" rx="2.1" ry="1.9" fill="#6e584c"/>
<path d="M933.1,361.2 Q936.7,358.4 940.3,360.8" fill="none" stroke="#4a3a34" stroke-width="0.9" stroke-linejoin="round" stroke-linecap="round"/>
<path d="M933.5,357.4 Q936.7,356.0 940.1,357.0" fill="none" stroke="#8a7468" stroke-width="0.5" stroke-linejoin="round" stroke-linecap="round"/>
<path d="M928.4,367.9 l0.8,0.6" fill="none" stroke="#c49a8c" stroke-width="0.6" stroke-linejoin="round" stroke-linecap="round"/>
<path d="M923.8,371.1 Q929.0,373.1 934.2,370.5 Q929.6,378.7 923.8,371.1 Z" fill="#e79a9c" stroke="#7a4a48" stroke-width="0.6" stroke-linejoin="round" stroke-linecap="round"/>
<path d="M924.6,371.6 Q929.0,373.3 933.4,371.1 L932.6,373.0 Q929.0,374.9 925.4,373.1 Z" fill="#fffaf6" stroke="none" stroke-width="0" stroke-linejoin="round" stroke-linecap="round"/>
<path d="M883.6,397.0 L876.6,384.1 A1.10,1.10 0 0 1 878.5,383.0 L886.5,395.3 Z" fill="#fff4ee" stroke="#4b3d37" stroke-width="0.8" stroke-linejoin="round"/>
<path d="M885.2,394.9 L879.1,377.4 A1.20,1.20 0 0 1 881.3,376.5 L888.6,393.7 Z" fill="#fff4ee" stroke="#4b3d37" stroke-width="0.8" stroke-linejoin="round"/>
<path d="M887.9,394.2 L883.3,376.4 A1.20,1.20 0 0 1 885.6,375.7 L891.4,393.2 Z" fill="#fff4ee" stroke="#4b3d37" stroke-width="0.8" stroke-linejoin="round"/>
<path d="M883.2,392.8C885.0,391.0 887.6,392.1 890.9,391.8C894.2,391.6 895.6,390.4 897.4,391.8C899.2,393.3 898.7,394.8 898.6,398.0C898.4,401.2 897.0,401.8 896.7,405.7C896.5,409.7 899.6,412.0 897.7,415.0C895.7,417.9 890.9,420.2 888.4,418.4C886.0,416.6 888.5,411.6 887.2,407.3C885.9,402.9 883.8,402.9 882.9,399.5C881.9,396.2 881.3,394.6 883.2,392.8Z" fill="#fff4ee" stroke="#4b3d37" stroke-width="0.7" stroke-linejoin="round" stroke-linecap="round"/>
<ellipse cx="885.0" cy="395.8" rx="1.9" ry="2.3" fill="#fff4ee"/>
<ellipse cx="887.2" cy="394.3" rx="1.9" ry="2.3" fill="#fff4ee"/>
<ellipse cx="890.0" cy="393.7" rx="1.9" ry="2.3" fill="#fff4ee"/>
<circle cx="894.0" cy="388.4" r="3.7" fill="none" stroke="#4b3d37" stroke-width="3.4"/>
<circle cx="894.0" cy="388.4" r="3.7" fill="none" stroke="#fff4ee" stroke-width="2.2"/>
<ellipse cx="893.0" cy="391.8" rx="2.4" ry="1.8" fill="#fff4ee"/>
</g>

<!-- woman.svg -->
<clipPath id="clip5"><rect x="1040" y="180" width="244" height="356.5"/></clipPath><g id="woman" clip-path="url(#clip5)">
<path d="M1172.9,192.7C1161.9,192.1 1164.6,192.3 1153.6,197.5C1142.6,202.7 1145.5,200.5 1136.3,210.1C1127.0,219.6 1129.7,216.0 1122.8,229.3C1115.8,242.6 1117.6,238.8 1113.1,254.4C1108.6,270.0 1109.0,266.4 1107.7,281.4C1106.5,296.4 1109.0,290.6 1108.9,304.5C1108.8,318.5 1107.8,313.9 1107.5,327.9C1107.2,341.8 1105.0,336.0 1107.9,351.0C1110.8,366.1 1110.3,364.1 1117.2,378.0C1124.0,391.9 1124.6,389.1 1130.7,397.3C1136.7,405.5 1135.4,408.9 1137.4,405.4C1139.4,401.9 1136.8,400.3 1137.4,385.7C1138.0,371.2 1136.2,371.9 1139.3,356.8C1142.5,341.8 1137.3,342.5 1148.0,335.6C1158.7,328.6 1161.7,335.3 1175.0,333.7C1188.3,332.0 1186.6,330.6 1192.4,330.2C1198.2,329.7 1189.7,335.7 1194.3,332.1C1199.0,328.5 1200.9,329.9 1207.8,318.2C1214.8,306.5 1213.5,310.0 1217.5,293.1C1221.5,276.3 1221.5,279.5 1221.1,262.1C1220.7,244.7 1220.9,249.6 1216.3,235.1C1211.7,220.7 1213.5,224.6 1205.7,213.9C1197.9,203.2 1200.1,205.8 1190.3,199.5C1180.4,193.1 1183.9,193.3 1172.9,192.7Z" fill="#b19c8b" stroke="#4b3d37" stroke-width="0.9" stroke-linejoin="round" stroke-linecap="round"/>
<path d="M1148.0,293.1L1145.1,354.9L1137.4,355.8L1167.3,379.6L1210.1,341.8L1194.3,334.6L1187.0,306.7L1188.5,293.1Z" fill="#fffaf5" stroke="none" stroke-width="0" stroke-linejoin="round" stroke-linecap="round"/>
<path d="M1187.0,306.7C1187.9,310.2 1188.6,322.0 1192.4,327.9C1196.2,333.7 1206.9,339.4 1209.8,341.8" fill="none" stroke="#4b3d37" stroke-width="0.7" stroke-linejoin="round" stroke-linecap="round"/>
<path d="M1124.2,464.8L1209.7,466.1L1214.2,482.4L1224.8,509.7L1235.5,540.0L1100.6,540.0L1109.7,509.7L1121.2,482.4Z" fill="#eabf54" stroke="#4b3d37" stroke-width="0.9" stroke-linejoin="round" stroke-linecap="round"/>
<path d="M1123.0,475.2C1130.4,475.9 1152.6,479.3 1167.3,479.4C1181.9,479.5 1203.6,476.4 1210.9,475.8" fill="none" stroke="#7a5a20" stroke-width="0.8" stroke-linejoin="round" stroke-linecap="round"/>
<path d="M1194.5,482.4C1194.8,484.9 1195.5,492.0 1196.1,497.6C1196.7,503.1 1197.8,512.7 1198.2,515.8" fill="none" stroke="#7a5a20" stroke-width="0.7" stroke-linejoin="round" stroke-linecap="round"/>
<path d="M1202.1,482.4C1202.6,484.4 1204.1,490.8 1205.2,494.5C1206.2,498.3 1207.9,503.4 1208.5,505.2" fill="none" stroke="#7a5a20" stroke-width="0.7" stroke-linejoin="round" stroke-linecap="round"/>
<path d="M1137.4,355.5C1130.4,351.4 1112.8,344.5 1107.5,344.3C1102.2,344.0 1091.5,347.8 1092.1,353.3C1092.7,358.8 1109.5,382.5 1112.7,391.5C1115.9,400.6 1118.1,422.3 1119.4,430.9C1120.7,439.5 1118.7,461.0 1124.2,465.5C1129.8,469.9 1157.3,468.9 1167.3,469.1C1177.2,469.2 1203.9,471.1 1209.7,466.7C1215.5,462.2 1215.8,440.4 1217.3,430.9C1218.8,421.4 1221.5,395.2 1222.4,385.5C1223.4,375.7 1227.0,352.6 1225.6,347.5C1224.1,342.4 1216.9,338.1 1210.1,341.8C1203.3,345.5 1175.8,377.6 1167.3,379.2C1158.8,380.8 1144.4,359.5 1137.4,355.5Z" fill="#f1e38f" stroke="#4b3d37" stroke-width="0.9" stroke-linejoin="round" stroke-linecap="round"/>
<path d="M1130.9,459.7C1138.0,459.9 1162.7,462.0 1173.3,461.2C1183.9,460.5 1191.0,456.2 1194.5,455.2" fill="none" stroke="#a8923e" stroke-width="0.7" stroke-linejoin="round" stroke-linecap="round"/>
<path d="M1097.9,347.2C1094.4,340.8 1095.7,346.4 1092.1,353.3C1088.5,360.2 1080.0,380.4 1076.4,388.5C1072.7,396.6 1071.4,396.6 1070.3,402.1C1069.2,407.7 1069.4,415.3 1069.7,421.8C1070.0,428.4 1070.7,435.7 1072.1,441.5C1073.5,447.4 1075.9,453.4 1078.2,457.0C1080.5,460.6 1081.8,462.0 1086.1,463.0C1090.3,464.0 1097.7,463.4 1103.6,463.0C1109.6,462.6 1119.2,466.0 1121.8,460.6C1124.4,455.3 1120.9,442.4 1119.4,430.9C1117.9,419.4 1116.3,405.5 1112.7,391.5C1109.1,377.6 1101.3,353.5 1097.9,347.2Z" fill="#f1e38f" stroke="#4b3d37" stroke-width="0.9" stroke-linejoin="round" stroke-linecap="round"/>
<path d="M1095.2,389.1C1096.8,393.5 1102.2,407.3 1105.2,415.8C1108.1,424.2 1111.5,436.0 1112.7,440.0" fill="none" stroke="#a8923e" stroke-width="0.7" stroke-linejoin="round" stroke-linecap="round"/>
<path d="M1222.4,385.5C1223.0,373.3 1220.5,358.2 1221.8,358.2C1223.1,358.2 1225.8,373.3 1230.3,385.5C1234.8,397.6 1245.4,419.3 1249.1,430.9C1252.8,442.5 1253.1,448.1 1252.7,455.2C1252.3,462.2 1249.7,468.7 1246.7,473.3C1243.6,478.0 1238.6,482.5 1234.5,483.0C1230.5,483.5 1225.5,480.0 1222.4,476.4C1219.4,472.7 1217.1,468.8 1216.4,461.2C1215.7,453.6 1217.2,443.5 1218.2,430.9C1219.2,418.3 1221.8,397.6 1222.4,385.5Z" fill="#f1e38f" stroke="#4b3d37" stroke-width="0.9" stroke-linejoin="round" stroke-linecap="round"/>
<path d="M1222.4,430.9C1222.8,434.9 1224.9,448.1 1224.8,455.2C1224.7,462.2 1222.3,470.3 1221.8,473.3" fill="none" stroke="#a8923e" stroke-width="0.7" stroke-linejoin="round" stroke-linecap="round"/>
<path d="M1142.2,357.2C1143.8,357.4 1148.9,357.7 1151.9,358.3C1154.8,359.0 1158.6,360.6 1160.0,361.0" fill="none" stroke="#b59a8c" stroke-width="0.7" stroke-linejoin="round" stroke-linecap="round"/>
<path d="M1178.9,359.1C1180.2,358.8 1184.0,357.6 1186.6,357.2C1189.2,356.8 1193.0,356.9 1194.3,356.8" fill="none" stroke="#b59a8c" stroke-width="0.7" stroke-linejoin="round" stroke-linecap="round"/>
<path d="M1134.7,266.0C1133.8,271.3 1134.2,269.9 1135.9,275.6C1137.5,281.3 1136.0,279.1 1140.5,286.2C1145.0,293.3 1143.6,293.5 1151.7,300.7C1159.8,307.8 1159.2,311.5 1169.0,311.5C1178.9,311.5 1177.7,308.9 1186.4,300.7C1195.1,292.4 1194.5,291.6 1199.9,282.4C1205.2,273.1 1203.6,273.9 1205.3,267.9C1206.9,261.9 1206.7,265.5 1205.7,261.2C1204.7,256.8 1205.1,258.8 1201.8,252.5C1198.5,246.2 1197.7,247.4 1194.1,239.0C1190.6,230.5 1193.1,222.6 1189.3,222.6C1185.5,222.6 1186.9,231.9 1180.6,239.0C1174.3,246.1 1175.3,244.0 1167.1,247.7C1158.9,251.3 1159.6,249.3 1151.7,251.9C1143.8,254.5 1144.0,252.7 1139.2,256.7C1134.4,260.7 1135.7,260.6 1134.7,266.0Z" fill="#fffaf5" stroke="#4b3d37" stroke-width="0.9" stroke-linejoin="round" stroke-linecap="round"/>
<path d="M1135.1,268.3C1134.5,268.8 1131.6,269.9 1131.3,271.4C1130.9,272.8 1131.8,275.7 1132.8,277.2C1133.8,278.6 1136.3,279.7 1137.0,280.2" fill="#fffaf5" stroke="#4b3d37" stroke-width="0.7" stroke-linejoin="round" stroke-linecap="round"/>
<path d="M1205.3,261.7C1205.9,262.1 1208.4,262.2 1208.8,264.0C1209.1,265.9 1208.5,270.4 1207.6,272.7C1206.7,275.0 1204.1,277.1 1203.4,277.9" fill="#fffaf5" stroke="#4b3d37" stroke-width="0.7" stroke-linejoin="round" stroke-linecap="round"/>
<ellipse cx="1144.9" cy="274.6" rx="9.5" ry="6.2" fill="#f7bdbb" opacity="0.5" filter="url(#bl2)"/>
<ellipse cx="1190.6" cy="273.7" rx="9.5" ry="6.2" fill="#f7bdbb" opacity="0.5" filter="url(#bl2)"/>
<ellipse cx="1150.2" cy="260.2" rx="5.0" ry="4.7" fill="#9a8476"/>
<circle cx="1150.2" cy="260.2" r="1.9" fill="#5c4a40"/>
<circle cx="1151.6" cy="258.8" r="0.9" fill="#fff"/>
<path d="M1141.6,260.8 Q1149.7,253.4 1159.0,259.0" fill="none" stroke="#4a3a34" stroke-width="1.5" stroke-linejoin="round" stroke-linecap="round"/>
<path d="M1144.2,264.8 Q1150.2,265.8 1156.2,264.4" fill="none" stroke="#8a7468" stroke-width="0.5" stroke-linejoin="round" stroke-linecap="round"/>
<ellipse cx="1186.8" cy="260.2" rx="5.0" ry="4.7" fill="#9a8476"/>
<circle cx="1186.8" cy="260.2" r="1.9" fill="#5c4a40"/>
<circle cx="1188.2" cy="258.8" r="0.9" fill="#fff"/>
<path d="M1178.2,260.8 Q1186.3,253.4 1195.6,259.0" fill="none" stroke="#4a3a34" stroke-width="1.5" stroke-linejoin="round" stroke-linecap="round"/>
<path d="M1180.8,264.8 Q1186.8,265.8 1192.8,264.4" fill="none" stroke="#8a7468" stroke-width="0.5" stroke-linejoin="round" stroke-linecap="round"/>
<path d="M1143.0,252.1C1144.2,251.8 1147.7,250.4 1150.2,250.2C1152.6,250.0 1156.6,250.8 1157.9,250.9" fill="none" stroke="#9a8476" stroke-width="0.7" stroke-linejoin="round" stroke-linecap="round"/>
<path d="M1180.6,249.8C1181.9,249.6 1185.8,248.6 1188.3,248.6C1190.8,248.7 1194.4,249.9 1195.6,250.2" fill="none" stroke="#9a8476" stroke-width="0.7" stroke-linejoin="round" stroke-linecap="round"/>
<circle cx="1166.2" cy="280.4" r="0.6" fill="#8a6a60"/>
<circle cx="1170.6" cy="280.4" r="0.6" fill="#8a6a60"/>
<path d="M1156.5,287.2C1158.4,286.0 1161.7,289.4 1168.1,289.1C1174.5,288.8 1178.4,284.9 1180.6,286.0C1182.8,287.2 1179.7,290.4 1176.4,293.3C1173.0,296.3 1172.2,297.2 1168.1,297.2C1164.0,297.2 1164.0,296.0 1160.9,293.3C1157.9,290.7 1154.6,288.3 1156.5,287.2Z" fill="#f1b3b3" stroke="#6a4040" stroke-width="0.8" stroke-linejoin="round" stroke-linecap="round"/>
<path d="M1158.6,287.9C1160.7,287.7 1162.7,289.9 1168.1,289.7C1173.4,289.4 1176.4,286.8 1178.7,287.0C1181.0,287.1 1179.6,288.9 1176.8,290.3C1173.9,291.7 1172.5,292.1 1168.1,292.2C1163.7,292.3 1162.7,291.8 1160.2,290.6C1157.7,289.5 1156.5,288.2 1158.6,287.9Z" fill="#fffaf7" stroke="none" stroke-width="0" stroke-linejoin="round" stroke-linecap="round"/>
<path d="M1164.2,299.5C1164.9,299.6 1167.0,300.4 1168.5,300.3C1169.9,300.2 1172.2,299.3 1172.9,299.1" fill="none" stroke="#d9a8a0" stroke-width="0.7" stroke-linejoin="round" stroke-linecap="round"/>
<path d="M1134.7,266.0C1138.3,265.5 1129.2,269.6 1130.7,275.8C1132.2,282.0 1135.6,280.5 1140.3,289.3C1145.0,298.0 1146.6,295.7 1148.4,308.6C1150.3,321.4 1149.8,324.7 1147.3,337.5C1144.7,350.4 1141.5,343.9 1138.8,356.8C1136.0,369.7 1137.4,372.8 1137.0,385.7C1136.7,398.7 1139.1,402.3 1137.4,405.4C1135.7,408.5 1136.1,404.6 1130.7,397.3C1125.3,390.0 1122.2,391.4 1117.2,378.0C1112.1,364.7 1113.0,365.7 1111.8,347.2C1110.5,328.6 1110.9,327.1 1112.3,308.6C1113.8,290.1 1111.2,289.1 1117.2,277.7C1123.1,266.4 1131.1,266.5 1134.7,266.0Z" fill="#b19c8b" stroke="none" stroke-width="0" stroke-linejoin="round" stroke-linecap="round"/>
<path d="M1134.7,266.0C1133.6,268.6 1129.2,269.6 1130.7,275.8C1132.2,282.0 1135.6,280.5 1140.3,289.3C1145.0,298.0 1146.6,295.7 1148.4,308.6C1150.3,321.4 1149.8,324.7 1147.3,337.5C1144.7,350.4 1141.5,343.9 1138.8,356.8C1136.0,369.7 1137.4,372.8 1137.0,385.7C1136.7,398.7 1139.1,402.3 1137.4,405.4C1135.7,408.5 1136.1,404.6 1130.7,397.3C1125.3,390.0 1123.2,390.4 1117.2,378.0C1111.1,365.7 1110.4,358.2 1107.9,351.0" fill="none" stroke="#4b3d37" stroke-width="0.8" stroke-linejoin="round" stroke-linecap="round"/>
<path d="M1167.1,200.4C1163.3,203.3 1150.7,209.7 1144.0,217.8C1137.2,225.8 1130.8,238.0 1126.6,248.6C1122.5,259.2 1120.2,275.9 1118.9,281.4" fill="none" stroke="#8c7768" stroke-width="0.7" stroke-linejoin="round" stroke-linecap="round"/>
<path d="M1180.6,206.2C1177.1,209.7 1166.5,219.7 1159.4,227.4C1152.3,235.1 1141.7,248.3 1138.2,252.5" fill="none" stroke="#8c7768" stroke-width="0.7" stroke-linejoin="round" stroke-linecap="round"/>
<path d="M1186.4,215.8C1184.5,219.1 1180.3,229.5 1174.8,235.1C1169.4,240.7 1157.2,247.2 1153.6,249.6" fill="none" stroke="#8c7768" stroke-width="0.7" stroke-linejoin="round" stroke-linecap="round"/>
<path d="M1194.1,206.2C1196.7,209.7 1206.0,218.7 1209.5,227.4C1213.1,236.1 1214.3,253.1 1215.3,258.3" fill="none" stroke="#8c7768" stroke-width="0.7" stroke-linejoin="round" stroke-linecap="round"/>
<path d="M1192.2,223.6C1194.1,227.4 1200.2,238.0 1203.7,246.7C1207.3,255.4 1211.8,270.8 1213.4,275.6" fill="none" stroke="#8c7768" stroke-width="0.7" stroke-linejoin="round" stroke-linecap="round"/>
<path d="M1121.0,285.4C1120.4,290.9 1116.8,305.4 1117.2,318.2C1117.5,331.1 1120.1,349.7 1122.9,362.6C1125.8,375.5 1132.6,389.9 1134.5,395.4" fill="none" stroke="#8c7768" stroke-width="0.7" stroke-linejoin="round" stroke-linecap="round"/>
<path d="M1132.6,293.1C1132.3,298.9 1130.7,315.7 1130.7,327.9C1130.7,340.1 1132.3,360.0 1132.6,366.5" fill="none" stroke="#8c7768" stroke-width="0.7" stroke-linejoin="round" stroke-linecap="round"/>
<path d="M1140.3,304.7C1140.3,309.5 1141.1,324.3 1140.3,333.7C1139.5,343.0 1136.3,356.2 1135.5,360.7" fill="none" stroke="#8c7768" stroke-width="0.7" stroke-linejoin="round" stroke-linecap="round"/>
<path d="M1213.6,281.6C1212.3,286.1 1208.9,300.9 1205.9,308.6C1202.8,316.3 1197.1,324.7 1195.3,327.9" fill="none" stroke="#8c7768" stroke-width="0.7" stroke-linejoin="round" stroke-linecap="round"/>
<path d="M1156.5,198.9C1153.5,200.9 1143.8,205.8 1138.6,211.0C1133.3,216.3 1128.9,223.0 1125.1,230.3C1121.2,237.6 1118.0,246.3 1115.4,254.8C1112.9,263.3 1110.8,273.4 1110.1,281.4C1109.3,289.4 1110.7,299.1 1110.8,302.6" fill="none" stroke="#f1e8e1" stroke-width="1.3" stroke-linejoin="round" stroke-linecap="round"/>
<path d="M1111.8,293.1C1111.6,298.9 1110.6,318.2 1110.6,327.9C1110.6,337.5 1110.2,343.0 1111.8,351.0C1113.3,359.1 1118.7,371.9 1120.1,376.1" fill="none" stroke="#f1e8e1" stroke-width="1.3" stroke-linejoin="round" stroke-linecap="round"/>
<path d="M1182.5,204.3C1180.0,206.5 1171.9,212.3 1167.1,217.8C1162.3,223.2 1157.6,230.6 1153.6,237.1C1149.6,243.5 1144.8,253.1 1143.0,256.3" fill="none" stroke="#d9ccc1" stroke-width="1.3" stroke-linejoin="round" stroke-linecap="round"/>
<path d="M1200.9,208.1C1202.9,211.7 1210.5,221.0 1213.4,229.3C1216.2,237.7 1217.2,253.4 1218.0,258.3" fill="none" stroke="#d9ccc1" stroke-width="1.3" stroke-linejoin="round" stroke-linecap="round"/>
<path d="M1069.4,333.5 L1052.2,307.0 A2.20,2.20 0 0 1 1055.8,304.5 L1075.4,329.2 Z" fill="#fffaf5" stroke="#4b3d37" stroke-width="0.8" stroke-linejoin="round"/>
<path d="M1074.7,328.7 L1068.2,288.3 A2.45,2.45 0 0 1 1073.0,287.4 L1082.5,327.1 Z" fill="#fffaf5" stroke="#4b3d37" stroke-width="0.8" stroke-linejoin="round"/>
<path d="M1082.1,327.9 L1083.9,286.5 A2.60,2.60 0 0 1 1089.1,286.5 L1090.5,327.9 Z" fill="#fffaf5" stroke="#4b3d37" stroke-width="0.8" stroke-linejoin="round"/>
<path d="M1067.0,326.3C1067.7,319.8 1071.9,321.7 1076.7,320.5C1081.4,319.4 1086.3,318.2 1090.5,320.5C1094.8,322.9 1094.7,330.6 1097.9,332.1C1101.1,333.6 1105.3,326.4 1106.6,327.9C1107.8,329.3 1105.8,335.5 1104.0,339.4C1102.3,343.4 1099.4,341.4 1097.9,347.5C1096.3,353.7 1096.7,361.7 1096.3,370.3C1095.9,379.0 1100.3,385.7 1095.9,390.8C1091.5,395.8 1078.5,399.5 1074.3,395.4C1070.2,391.3 1075.3,378.8 1075.1,370.3C1074.9,361.8 1074.8,361.7 1073.2,352.9C1071.6,344.2 1066.3,332.8 1067.0,326.3Z" fill="#fffaf5" stroke="#4b3d37" stroke-width="0.8" stroke-linejoin="round" stroke-linecap="round"/>
<ellipse cx="1073.2" cy="330.2" rx="3.9" ry="4.6" fill="#fffaf5"/>
<ellipse cx="1079.4" cy="326.3" rx="3.9" ry="5.0" fill="#fffaf5"/>
<ellipse cx="1086.7" cy="326.3" rx="3.9" ry="5.0" fill="#fffaf5"/>
<circle cx="1097.9" cy="322.5" r="6.0" fill="none" stroke="#4b3d37" stroke-width="6.0"/>
<circle cx="1097.9" cy="322.5" r="6.0" fill="none" stroke="#fffaf5" stroke-width="4.5"/>
<ellipse cx="1095.2" cy="330.2" rx="4.2" ry="3.4" fill="#fffaf5"/>
<path d="M1074.3,395.4C1076.2,395.2 1081.7,395.2 1085.3,394.4C1088.9,393.6 1094.2,391.4 1095.9,390.8" fill="none" stroke="#4b3d37" stroke-width="0.8" stroke-linejoin="round" stroke-linecap="round"/>
<path d="M1234.8,321.1L1265.7,327.9L1254.1,385.7L1224.2,380.0 Z" fill="#c6c5c3" stroke="#5e5a57" stroke-width="4.4" stroke-linejoin="round"/>
<path d="M1234.8,321.1L1265.7,327.9L1254.1,385.7L1224.2,380.0 Z" fill="#c6c5c3" stroke="#c6c5c3" stroke-width="3.2" stroke-linejoin="round"/>
<path d="M1236.4,329.0L1261.8,334.8L1253.3,374.2L1228.7,369.2 Z" fill="#fffdfb" stroke="#6a6663" stroke-width="0.6"/>
<path d="M1228.1,370.7L1253.0,375.7L1251.0,385.4L1225.6,380.3 Z" fill="#a9a8a6"/>
<circle cx="1244.9" cy="350.1" r="9.8" fill="#f3cf3e"/><circle cx="1241.6" cy="347.9" r="0.98" fill="#4a3a2a"/><circle cx="1248.1" cy="347.9" r="0.98" fill="#4a3a2a"/><path d="M1240.0,351.8 Q1244.9,357.4 1249.8,351.8" fill="none" stroke="#4a3a2a" stroke-width="1.08" stroke-linecap="round"/>
<path d="M1259.9,360.7C1262.4,356.6 1269.9,353.0 1272.4,352.0C1275.0,350.9 1275.2,352.6 1273.8,354.9C1272.4,357.2 1266.1,361.0 1264.7,364.5C1263.3,368.1 1266.6,370.3 1266.1,374.2C1265.5,378.1 1264.7,381.5 1261.8,385.7C1258.9,390.0 1252.9,392.4 1250.3,397.3C1247.6,402.3 1248.2,407.0 1247.4,412.7C1246.5,418.5 1250.0,425.7 1245.6,428.6C1241.3,431.5 1226.5,431.5 1223.6,428.6C1220.8,425.7 1228.3,418.5 1230.0,412.7C1231.7,407.0 1233.8,402.3 1232.9,397.3C1232.0,392.4 1227.1,390.7 1225.2,385.7C1223.2,380.8 1222.6,375.6 1222.3,370.3C1222.0,365.0 1222.8,358.6 1223.6,356.8C1224.5,355.0 1225.9,356.8 1226.7,360.7C1227.5,364.6 1225.5,373.1 1228.1,378.0C1230.6,383.0 1236.2,386.6 1240.6,387.7C1245.0,388.7 1248.8,386.3 1252.2,383.8C1255.6,381.3 1257.5,378.4 1258.9,374.2C1260.4,369.9 1257.4,364.7 1259.9,360.7Z" fill="#fffaf5" stroke="#4b3d37" stroke-width="0.8" stroke-linejoin="round" stroke-linecap="round"/>
<path d="M1249.3,368.8 L1261.8,367.2" fill="none" stroke="#4b3d37" stroke-width="0.6" stroke-linejoin="round" stroke-linecap="round"/>
<path d="M1244.5,377.3 L1259.9,375.7" fill="none" stroke="#4b3d37" stroke-width="0.6" stroke-linejoin="round" stroke-linecap="round"/>
<path d="M1247.4,385.4 L1257.0,383.8" fill="none" stroke="#4b3d37" stroke-width="0.6" stroke-linejoin="round" stroke-linecap="round"/>
<path d="M1222.4,431.5C1224.6,431.3 1231.2,431.1 1235.5,430.3C1239.7,429.5 1245.8,427.3 1247.9,426.7" fill="none" stroke="#4b3d37" stroke-width="0.8" stroke-linejoin="round" stroke-linecap="round"/>
<path d="M1238.4,230.0L1267.3,230.0Q1273.3,230.0 1273.3,236.0L1273.3,252.8Q1273.3,258.8 1267.3,258.8L1255.8,258.8 L1248.5,266.7 L1246.7,258.8L1238.4,258.8Q1232.4,258.8 1232.4,252.8L1232.4,236.0Q1232.4,230.0 1238.4,230.0 Z" fill="#fffdfa" stroke="#45372f" stroke-width="1.05" stroke-linejoin="round"/>
<polygon points="1243.6,236.2 1245.9,241.2 1251.2,241.8 1247.3,245.4 1248.3,250.7 1243.6,248.0 1238.9,250.7 1240.0,245.4 1236.0,241.8 1241.4,241.2" fill="#f3d04e" stroke="#d9b23a" stroke-width="0.5" stroke-linejoin="round"/>
<polygon points="1261.8,236.2 1264.1,241.2 1269.4,241.8 1265.4,245.4 1266.5,250.7 1261.8,248.0 1257.1,250.7 1258.2,245.4 1254.2,241.8 1259.6,241.2" fill="#f3d04e" stroke="#d9b23a" stroke-width="0.5" stroke-linejoin="round"/>
<path d="M1237.9,272.9L1268.4,272.9Q1274.4,272.9 1274.4,278.9L1274.4,295.8Q1274.4,301.8 1268.4,301.8L1256.4,301.8 L1247.9,309.7 L1247.2,301.8L1237.9,301.8Q1231.9,301.8 1231.9,295.8L1231.9,278.9Q1231.9,272.9 1237.9,272.9 Z" fill="#fffdfa" stroke="#45372f" stroke-width="1.05" stroke-linejoin="round"/>
<path d="M1253.2,283.7 C1251.1,277.6 1242.9,278.2 1242.9,284.4 C1242.9,289.6 1249.1,292.9 1253.2,297.0 C1257.3,292.9 1263.4,289.6 1263.4,284.4 C1263.4,278.2 1255.2,277.6 1253.2,283.7 Z" fill="#dd6f85" stroke="#4b3d37" stroke-width="0.7" stroke-linejoin="round"/>
<path d="M1099.6,222.6 L1106.4,228.4" fill="none" stroke="#dfa09c" stroke-width="1.1" stroke-linejoin="round" stroke-linecap="round"/>
<path d="M1092.9,230.9 L1103.5,234.2" fill="none" stroke="#dfa09c" stroke-width="1.1" stroke-linejoin="round" stroke-linecap="round"/>
<path d="M1091.9,241.3 L1102.5,240.5" fill="none" stroke="#dfa09c" stroke-width="1.1" stroke-linejoin="round" stroke-linecap="round"/>
<path d="M1268.6,321.1 L1272.4,315.3" fill="none" stroke="#dfa09c" stroke-width="1.1" stroke-linejoin="round" stroke-linecap="round"/>
<path d="M1272.4,325.9 L1279.2,321.1" fill="none" stroke="#dfa09c" stroke-width="1.1" stroke-linejoin="round" stroke-linecap="round"/>
<path d="M1274.4,330.8 L1281.1,330.2" fill="none" stroke="#dfa09c" stroke-width="1.1" stroke-linejoin="round" stroke-linecap="round"/>
</g>
<rect x="1068.3" y="535.8" width="200" height="82.2" rx="15" fill="#dccba7"/>


<g id="text" font-family="'Liberation Sans','Noto Sans CJK JP',sans-serif" font-weight="700">
<text x="222.45" y="96.23" font-size="51.6" fill="#0c0b0b" stroke="#0c0b0b" stroke-width="1" stroke-linejoin="round" textLength="350.1" lengthAdjust="spacingAndGlyphs">横浜のチャット</text>
<text x="566.98" y="96.23" font-size="51.6" fill="#0c0b0b" stroke="#0c0b0b" stroke-width="1" stroke-linejoin="round" textLength="154.1" lengthAdjust="spacingAndGlyphs">レディ</text>
<text x="716.33" y="96.23" font-size="51.6" fill="#0c0b0b" stroke="#0c0b0b" stroke-width="1" stroke-linejoin="round" textLength="207" lengthAdjust="spacingAndGlyphs">事務所の</text>
<text x="924.67" y="96.23" font-size="51.6" fill="#0c0b0b" stroke="#0c0b0b" stroke-width="1" stroke-linejoin="round" textLength="154.3" lengthAdjust="spacingAndGlyphs">選び方</text>
<text x="134.82" y="156.57" font-size="41.8" fill="#fdf1ef" textLength="509.9" lengthAdjust="spacingAndGlyphs">後悔しない事務所選びのために</text>
<text x="654" y="156.57" font-size="43" fill="#fdf1ef">!</text>
<text x="674.24" y="156.57" font-size="41.8" fill="#fdf1ef" textLength="492.4" lengthAdjust="spacingAndGlyphs">4つの重要なチェックポイント</text>
<text x="179.5" y="230.9" font-size="41" fill="#fff8f4" text-anchor="middle">1</text>
<text x="443.5" y="230.9" font-size="41" fill="#fbfbf4" text-anchor="middle">2</text>
<text x="702.6" y="230.35" font-size="41" fill="#fff8f4" text-anchor="middle">3</text>
<text x="955.9" y="230.9" font-size="41" fill="#fffaf0" text-anchor="middle">4</text>
<text x="111.76" y="279.53" font-size="29.8" fill="#171413" textLength="116.4" lengthAdjust="spacingAndGlyphs">1.報酬率</text>
<text x="223.18" y="279.53" font-size="30.5" fill="#171413">・</text>
<text x="78.35" y="313.43" font-size="30.7" fill="#161413" textLength="205.7" lengthAdjust="spacingAndGlyphs">平均時給の高さ</text>
<text x="325.27" y="279.53" font-size="30.7" fill="#161413" textLength="233.9" lengthAdjust="spacingAndGlyphs">2.時給保証などの</text>
<text x="384.67" y="313.18" font-size="32.5" fill="#161413" textLength="116.7" lengthAdjust="spacingAndGlyphs">保証制度</text>
<text x="593.49" y="279.74" font-size="27.4" fill="#161413" textLength="217.5" lengthAdjust="spacingAndGlyphs">3.ノンアダルトで</text>
<text x="630.65" y="313.26" font-size="30.7" fill="#161413" textLength="144.6" lengthAdjust="spacingAndGlyphs">稼げる実績</text>
<text x="854.99" y="279.54" font-size="30" fill="#161413" textLength="202.3" lengthAdjust="spacingAndGlyphs">4.最寄駅からの</text>
<text x="901.07" y="313.3" font-size="28.9" fill="#161413" textLength="110.9" lengthAdjust="spacingAndGlyphs">アクセス</text>
<text x="75.36" y="497.53" font-size="29.5" fill="#161413" textLength="203.6" lengthAdjust="spacingAndGlyphs">平均時給の高さ</text>
<text x="337.1" y="498.21" font-size="30.6" fill="#161413" textLength="215" lengthAdjust="spacingAndGlyphs">初心者でも安心!</text>
<text x="594.49" y="466.75" font-size="27.2" fill="#161413" textLength="215.4" lengthAdjust="spacingAndGlyphs">3.ノンアダルトで</text>
<text x="630.85" y="499.7" font-size="30.2" fill="#161413" textLength="144.2" lengthAdjust="spacingAndGlyphs">稼げる実績</text>
<text x="854.39" y="466.48" font-size="29.5" fill="#161413" textLength="201.2" lengthAdjust="spacingAndGlyphs">4.最寄駅からの</text>
<text x="900.88" y="499.84" font-size="29.8" fill="#161413" textLength="110.5" lengthAdjust="spacingAndGlyphs">アクセス</text>
<text x="69.5" y="528.21" font-size="20.7" fill="#161413" textLength="222.5" lengthAdjust="spacingAndGlyphs">頑張った分だけ稼げる!</text>
<text x="70.63" y="553.74" font-size="21.5" fill="#161413" textLength="220.7" lengthAdjust="spacingAndGlyphs">業界最高水準の報酬率</text>
<text x="88.81" y="578.89" font-size="20.8" fill="#161413" textLength="194.9" lengthAdjust="spacingAndGlyphs">の事務所を選ぼう。</text>
<text x="98.18" y="604.72" font-size="20.8" fill="#161413" textLength="176.9" lengthAdjust="spacingAndGlyphs">平均時給も確認。</text>
<text x="334.1" y="529.96" font-size="21.2" fill="#161413" textLength="217.2" lengthAdjust="spacingAndGlyphs">収入が不安定な時期を</text>
<text x="329.97" y="555.06" font-size="21.6" fill="#161413" textLength="225.5" lengthAdjust="spacingAndGlyphs">サポートする、時給保証</text>
<text x="356.58" y="580.59" font-size="21.6" fill="#161413" textLength="173.4" lengthAdjust="spacingAndGlyphs">や保障制度のある</text>
<text x="362.18" y="606.41" font-size="21.7" fill="#161413" textLength="172.3" lengthAdjust="spacingAndGlyphs">事務所を選ぼう。</text>
<text x="584.9" y="529.12" font-size="20.9" fill="#161413" textLength="231.2" lengthAdjust="spacingAndGlyphs">アダルトなしでも高収入!</text>
<text x="585.85" y="554.93" font-size="21.6" fill="#161413" textLength="236.8" lengthAdjust="spacingAndGlyphs">ノンアダルトで稼げている</text>
<text x="593.32" y="580.58" font-size="21.4" fill="#161413" textLength="215.7" lengthAdjust="spacingAndGlyphs">女性チャットレディ実績</text>
<text x="605.13" y="605.07" font-size="21" fill="#161413" textLength="205.1" lengthAdjust="spacingAndGlyphs">ある事務所を選ぼう。</text>
<text x="842.59" y="529.1" font-size="20.9" fill="#161413" textLength="223.6" lengthAdjust="spacingAndGlyphs">通いやすさが継続の鍵!</text>
<text x="845.29" y="554.85" font-size="21.9" fill="#161413" textLength="233" lengthAdjust="spacingAndGlyphs">最寄駅から徒歩数分の、</text>
<text x="881.85" y="580.33" font-size="20.3" fill="#161413" textLength="145.5" lengthAdjust="spacingAndGlyphs">アクセスの良い</text>
<text x="875.18" y="606.77" font-size="22.1" fill="#161413" textLength="171.7" lengthAdjust="spacingAndGlyphs">事務所を選ぼう。</text>
<text x="1074.31" y="570.95" font-size="21.3" fill="#161413" textLength="197.7" lengthAdjust="spacingAndGlyphs">自分に合った事務所で、</text>
<text x="1113.74" y="597.49" font-size="21.3" fill="#161413" textLength="108.2" lengthAdjust="spacingAndGlyphs">楽しく稼ごう!</text>
<text x="68.04" y="686.27" font-size="56.2" fill="#0c0b0b" stroke="#0c0b0b" stroke-width="0.9" stroke-linejoin="round" textLength="408.9" lengthAdjust="spacingAndGlyphs">自分に合った最高</text>
<text x="479.01" y="686.27" font-size="56.2" fill="#0c0b0b" stroke="#0c0b0b" stroke-width="0.9" stroke-linejoin="round" textLength="462.3" lengthAdjust="spacingAndGlyphs">の事務所を見つけて</text>
<text x="939.39" y="686.27" font-size="54" fill="#0c0b0b" stroke="#0c0b0b" stroke-width="0.9" stroke-linejoin="round">、</text>
<text x="960.24" y="686.27" font-size="56.2" fill="#0c0b0b" stroke="#0c0b0b" stroke-width="0.9" stroke-linejoin="round" textLength="269" lengthAdjust="spacingAndGlyphs">成功しよう!</text>
<text x="250.65" y="384.38" font-size="12.5" fill="#161413" textLength="31.5" lengthAdjust="spacingAndGlyphs">時給:</text>
<text x="245.11" y="400.99" font-size="13.6" fill="#161413" textLength="44.2" lengthAdjust="spacingAndGlyphs">XXXX円</text>
<text x="521.12" y="352.53" font-size="16.3" fill="#161413" textLength="34.7" lengthAdjust="spacingAndGlyphs">定規</text>
<text x="521.12" y="375.29" font-size="17.6" fill="#161413" textLength="34.8" lengthAdjust="spacingAndGlyphs">投入</text>
<text x="496.46" y="433.1" font-size="15.2" fill="#161413" textLength="52.8" lengthAdjust="spacingAndGlyphs">保障期間</text>
<text x="736.9" y="348.81" font-size="13.4" fill="#161413" textLength="71.6" lengthAdjust="spacingAndGlyphs">NON-ADULT</text>
<text x="743.98" y="368.03" font-size="16.4" fill="#161413" textLength="57.1" lengthAdjust="spacingAndGlyphs">稼げる!</text>
<text x="866.78" y="349.64" font-size="14.8" fill="#161413" textLength="32.5" lengthAdjust="spacingAndGlyphs">XX駅</text>
<text x="115.43" y="345.1" font-size="15.5" font-weight="400" fill="#2a2020">¥</text>
<text x="82.51" y="360.5" font-size="16.5" font-weight="400" fill="#2a2020">¥</text>
<text x="120.2" y="379.2" font-size="16.8" font-weight="400" fill="#2a2020">¥</text>
<text x="363.66" y="372.9" font-size="15" font-weight="400" fill="#2a2020">¥</text>
</g>
</svg>
<div id="labels">
<h1 class="t" style="left:224px;top:49px;width:855px;height:54px;font-size:41px">横浜のチャットレディ事務所の選び方</h1>
<h2 class="t" style="left:135px;top:118px;width:1028px;height:44px;font-size:33px">後悔しない事務所選びのために!4つの重要なチェックポイント</h2>
<span class="t" style="left:170px;top:199px;width:18px;height:34px;font-size:30px">1</span>
<span class="t" style="left:432px;top:199px;width:26px;height:34px;font-size:32px">2</span>
<span class="t" style="left:691px;top:199px;width:24px;height:34px;font-size:31px">3</span>
<span class="t" style="left:945px;top:199px;width:25px;height:34px;font-size:32px">4</span>
<h3 class="t" style="left:114px;top:252px;width:131px;height:32px;font-size:24px">1.報酬率・</h3>
<h3 class="t" style="left:80px;top:285px;width:203px;height:33px;font-size:25px">平均時給の高さ</h3>
<h3 class="t" style="left:326px;top:251px;width:233px;height:33px;font-size:25px">2.時給保証などの</h3>
<h3 class="t" style="left:385px;top:284px;width:117px;height:35px;font-size:26px">保証制度</h3>
<h3 class="t" style="left:594px;top:254px;width:217px;height:30px;font-size:22px">3.ノンアダルトで</h3>
<h3 class="t" style="left:631px;top:285px;width:145px;height:33px;font-size:25px">稼げる実績</h3>
<h3 class="t" style="left:856px;top:252px;width:202px;height:32px;font-size:24px">4.最寄駅からの</h3>
<h3 class="t" style="left:904px;top:287px;width:108px;height:30px;font-size:23px">アクセス</h3>
<h4 class="t" style="left:77px;top:470px;width:200px;height:32px;font-size:24px">平均時給の高さ</h4>
<h4 class="t" style="left:338px;top:470px;width:215px;height:33px;font-size:24px">初心者でも安心!</h4>
<h4 class="t" style="left:595px;top:441px;width:215px;height:30px;font-size:22px">3.ノンアダルトで</h4>
<h4 class="t" style="left:631px;top:472px;width:145px;height:33px;font-size:24px">稼げる実績</h4>
<h4 class="t" style="left:855px;top:439px;width:200px;height:32px;font-size:24px">4.最寄駅からの</h4>
<h4 class="t" style="left:904px;top:473px;width:107px;height:31px;font-size:24px">アクセス</h4>
<p class="t" style="left:70px;top:509px;width:223px;height:24px;font-size:17px">頑張った分だけ稼げる!</p>
<p class="t" style="left:71px;top:533px;width:221px;height:24px;font-size:17px">業界最高水準の報酬率</p>
<p class="t" style="left:90px;top:559px;width:182px;height:24px;font-size:17px">の事務所を選ぼう。</p>
<p class="t" style="left:99px;top:585px;width:164px;height:24px;font-size:17px">平均時給も確認。</p>
<p class="t" style="left:335px;top:510px;width:217px;height:24px;font-size:17px">収入が不安定な時期を</p>
<p class="t" style="left:331px;top:534px;width:226px;height:25px;font-size:17px">サポートする、時給保証</p>
<p class="t" style="left:357px;top:560px;width:172px;height:24px;font-size:17px">や保障制度のある</p>
<p class="t" style="left:363px;top:586px;width:160px;height:24px;font-size:17px">事務所を選ぼう。</p>
<p class="t" style="left:587px;top:509px;width:230px;height:24px;font-size:17px">アダルトなしでも高収入!</p>
<p class="t" style="left:588px;top:534px;width:234px;height:25px;font-size:17px">ノンアダルトで稼げている</p>
<p class="t" style="left:594px;top:560px;width:216px;height:25px;font-size:17px">女性チャットレディ実績</p>
<p class="t" style="left:607px;top:585px;width:192px;height:24px;font-size:17px">ある事務所を選ぼう。</p>
<p class="t" style="left:843px;top:509px;width:224px;height:24px;font-size:17px">通いやすさが継続の鍵!</p>
<p class="t" style="left:846px;top:534px;width:221px;height:25px;font-size:18px">最寄駅から徒歩数分の、</p>
<p class="t" style="left:884px;top:561px;width:144px;height:23px;font-size:16px">アクセスの良い</p>
<p class="t" style="left:876px;top:586px;width:159px;height:25px;font-size:18px">事務所を選ぼう。</p>
<p class="t" style="left:1077px;top:551px;width:186px;height:24px;font-size:17px">自分に合った事務所で、</p>
<p class="t" style="left:1114px;top:577px;width:109px;height:24px;font-size:17px">楽しく稼ごう!</p>
<h2 class="t" style="left:75px;top:636px;width:1153px;height:58px;font-size:45px">自分に合った最高の事務所を見つけて、成功しよう!</h2>
<p class="t" style="left:252px;top:372px;width:32px;height:16px;font-size:10px">時給:</p>
<p class="t" style="left:245px;top:388px;width:45px;height:16px;font-size:11px">XXXX円</p>
<p class="t" style="left:522px;top:337px;width:36px;height:19px;font-size:13px">定規</p>
<p class="t" style="left:522px;top:358px;width:36px;height:21px;font-size:14px">投入</p>
<p class="t" style="left:497px;top:418px;width:54px;height:18px;font-size:12px">保障期間</p>
<p class="t" style="left:738px;top:337px;width:72px;height:14px;font-size:11px">NON-ADULT</p>
<p class="t" style="left:744px;top:352px;width:58px;height:20px;font-size:13px">稼げる!</p>
<p class="t" style="left:867px;top:336px;width:34px;height:17px;font-size:12px">XX駅</p>
<p class="t" style="left:116px;top:332px;width:11px;height:15px;font-size:12px">¥</p>
<p class="t" style="left:83px;top:347px;width:11px;height:16px;font-size:13px">¥</p>
<p class="t" style="left:121px;top:365px;width:12px;height:16px;font-size:13px">¥</p>
<p class="t" style="left:364px;top:360px;width:10px;height:15px;font-size:12px">¥</p>
</div>
</div>
</body>
</html>
